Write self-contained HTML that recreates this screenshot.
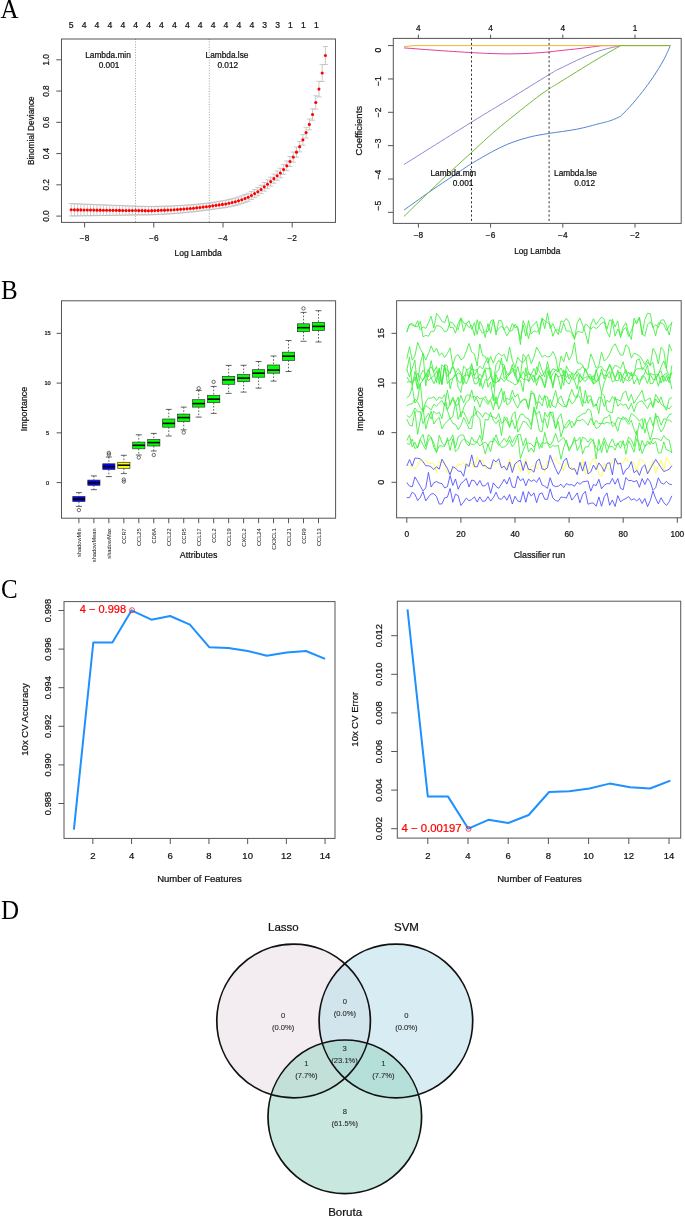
<!DOCTYPE html><html><head><meta charset="utf-8"><style>html,body{margin:0;padding:0;background:#fff;}svg{display:block;will-change:transform;}text{font-family:"Liberation Sans",sans-serif;}</style></head><body>
<svg width="685" height="1217" viewBox="0 0 685 1217">
<rect x="0" y="0" width="685" height="1217" fill="#fff"/>
<text transform="translate(0.6,17.5) scale(1,1.08)" font-size="25" style="font-family:'Liberation Serif',serif" fill="#000">A</text>
<text transform="translate(1.0,299.2) scale(1,1.08)" font-size="25" style="font-family:'Liberation Serif',serif" fill="#000">B</text>
<text transform="translate(0.9,597.9) scale(1,1.08)" font-size="25" style="font-family:'Liberation Serif',serif" fill="#000">C</text>
<text transform="translate(1.0,918.9) scale(1,1.08)" font-size="25" style="font-family:'Liberation Serif',serif" fill="#000">D</text>
<g stroke="#b8b8b8" stroke-width="0.75">
<line x1="71.21" y1="203.61" x2="71.21" y2="215.99"/>
<line x1="68.61" y1="203.61" x2="73.81" y2="203.61"/>
<line x1="68.61" y1="215.99" x2="73.81" y2="215.99"/>
<line x1="74.43" y1="203.74" x2="74.43" y2="215.95"/>
<line x1="71.83" y1="203.74" x2="77.03" y2="203.74"/>
<line x1="71.83" y1="215.95" x2="77.03" y2="215.95"/>
<line x1="77.65" y1="203.87" x2="77.65" y2="215.90"/>
<line x1="75.05" y1="203.87" x2="80.25" y2="203.87"/>
<line x1="75.05" y1="215.90" x2="80.25" y2="215.90"/>
<line x1="80.86" y1="204.00" x2="80.86" y2="215.85"/>
<line x1="78.26" y1="204.00" x2="83.46" y2="204.00"/>
<line x1="78.26" y1="215.85" x2="83.46" y2="215.85"/>
<line x1="84.08" y1="204.13" x2="84.08" y2="215.81"/>
<line x1="81.48" y1="204.13" x2="86.68" y2="204.13"/>
<line x1="81.48" y1="215.81" x2="86.68" y2="215.81"/>
<line x1="87.30" y1="204.26" x2="87.30" y2="215.76"/>
<line x1="84.70" y1="204.26" x2="89.90" y2="204.26"/>
<line x1="84.70" y1="215.76" x2="89.90" y2="215.76"/>
<line x1="90.52" y1="204.39" x2="90.52" y2="215.71"/>
<line x1="87.92" y1="204.39" x2="93.12" y2="204.39"/>
<line x1="87.92" y1="215.71" x2="93.12" y2="215.71"/>
<line x1="93.73" y1="204.52" x2="93.73" y2="215.66"/>
<line x1="91.13" y1="204.52" x2="96.33" y2="204.52"/>
<line x1="91.13" y1="215.66" x2="96.33" y2="215.66"/>
<line x1="96.95" y1="204.65" x2="96.95" y2="215.62"/>
<line x1="94.35" y1="204.65" x2="99.55" y2="204.65"/>
<line x1="94.35" y1="215.62" x2="99.55" y2="215.62"/>
<line x1="100.17" y1="204.78" x2="100.17" y2="215.57"/>
<line x1="97.57" y1="204.78" x2="102.77" y2="204.78"/>
<line x1="97.57" y1="215.57" x2="102.77" y2="215.57"/>
<line x1="103.39" y1="204.91" x2="103.39" y2="215.52"/>
<line x1="100.79" y1="204.91" x2="105.99" y2="204.91"/>
<line x1="100.79" y1="215.52" x2="105.99" y2="215.52"/>
<line x1="106.61" y1="205.04" x2="106.61" y2="215.48"/>
<line x1="104.01" y1="205.04" x2="109.21" y2="205.04"/>
<line x1="104.01" y1="215.48" x2="109.21" y2="215.48"/>
<line x1="109.82" y1="205.17" x2="109.82" y2="215.43"/>
<line x1="107.22" y1="205.17" x2="112.42" y2="205.17"/>
<line x1="107.22" y1="215.43" x2="112.42" y2="215.43"/>
<line x1="113.04" y1="205.29" x2="113.04" y2="215.37"/>
<line x1="110.44" y1="205.29" x2="115.64" y2="205.29"/>
<line x1="110.44" y1="215.37" x2="115.64" y2="215.37"/>
<line x1="116.26" y1="205.41" x2="116.26" y2="215.32"/>
<line x1="113.66" y1="205.41" x2="118.86" y2="205.41"/>
<line x1="113.66" y1="215.32" x2="118.86" y2="215.32"/>
<line x1="119.48" y1="205.53" x2="119.48" y2="215.26"/>
<line x1="116.88" y1="205.53" x2="122.08" y2="205.53"/>
<line x1="116.88" y1="215.26" x2="122.08" y2="215.26"/>
<line x1="122.69" y1="205.65" x2="122.69" y2="215.20"/>
<line x1="120.09" y1="205.65" x2="125.29" y2="205.65"/>
<line x1="120.09" y1="215.20" x2="125.29" y2="215.20"/>
<line x1="125.91" y1="205.77" x2="125.91" y2="215.15"/>
<line x1="123.31" y1="205.77" x2="128.51" y2="205.77"/>
<line x1="123.31" y1="215.15" x2="128.51" y2="215.15"/>
<line x1="129.13" y1="205.89" x2="129.13" y2="215.09"/>
<line x1="126.53" y1="205.89" x2="131.73" y2="205.89"/>
<line x1="126.53" y1="215.09" x2="131.73" y2="215.09"/>
<line x1="132.35" y1="206.01" x2="132.35" y2="215.03"/>
<line x1="129.75" y1="206.01" x2="134.95" y2="206.01"/>
<line x1="129.75" y1="215.03" x2="134.95" y2="215.03"/>
<line x1="135.57" y1="206.13" x2="135.57" y2="214.98"/>
<line x1="132.97" y1="206.13" x2="138.17" y2="206.13"/>
<line x1="132.97" y1="214.98" x2="138.17" y2="214.98"/>
<line x1="138.78" y1="206.25" x2="138.78" y2="214.92"/>
<line x1="136.18" y1="206.25" x2="141.38" y2="206.25"/>
<line x1="136.18" y1="214.92" x2="141.38" y2="214.92"/>
<line x1="142.00" y1="206.35" x2="142.00" y2="214.89"/>
<line x1="139.40" y1="206.35" x2="144.60" y2="206.35"/>
<line x1="139.40" y1="214.89" x2="144.60" y2="214.89"/>
<line x1="145.22" y1="206.42" x2="145.22" y2="214.88"/>
<line x1="142.62" y1="206.42" x2="147.82" y2="206.42"/>
<line x1="142.62" y1="214.88" x2="147.82" y2="214.88"/>
<line x1="148.44" y1="206.49" x2="148.44" y2="214.87"/>
<line x1="145.84" y1="206.49" x2="151.04" y2="206.49"/>
<line x1="145.84" y1="214.87" x2="151.04" y2="214.87"/>
<line x1="151.65" y1="206.49" x2="151.65" y2="214.79"/>
<line x1="149.05" y1="206.49" x2="154.25" y2="206.49"/>
<line x1="149.05" y1="214.79" x2="154.25" y2="214.79"/>
<line x1="154.87" y1="206.42" x2="154.87" y2="214.63"/>
<line x1="152.27" y1="206.42" x2="157.47" y2="206.42"/>
<line x1="152.27" y1="214.63" x2="157.47" y2="214.63"/>
<line x1="158.09" y1="206.34" x2="158.09" y2="214.47"/>
<line x1="155.49" y1="206.34" x2="160.69" y2="206.34"/>
<line x1="155.49" y1="214.47" x2="160.69" y2="214.47"/>
<line x1="161.31" y1="206.26" x2="161.31" y2="214.31"/>
<line x1="158.71" y1="206.26" x2="163.91" y2="206.26"/>
<line x1="158.71" y1="214.31" x2="163.91" y2="214.31"/>
<line x1="164.53" y1="206.19" x2="164.53" y2="214.15"/>
<line x1="161.93" y1="206.19" x2="167.13" y2="206.19"/>
<line x1="161.93" y1="214.15" x2="167.13" y2="214.15"/>
<line x1="167.74" y1="206.11" x2="167.74" y2="213.99"/>
<line x1="165.14" y1="206.11" x2="170.34" y2="206.11"/>
<line x1="165.14" y1="213.99" x2="170.34" y2="213.99"/>
<line x1="170.96" y1="206.04" x2="170.96" y2="213.83"/>
<line x1="168.36" y1="206.04" x2="173.56" y2="206.04"/>
<line x1="168.36" y1="213.83" x2="173.56" y2="213.83"/>
<line x1="174.18" y1="205.87" x2="174.18" y2="213.58"/>
<line x1="171.58" y1="205.87" x2="176.78" y2="205.87"/>
<line x1="171.58" y1="213.58" x2="176.78" y2="213.58"/>
<line x1="177.40" y1="205.66" x2="177.40" y2="213.29"/>
<line x1="174.80" y1="205.66" x2="180.00" y2="205.66"/>
<line x1="174.80" y1="213.29" x2="180.00" y2="213.29"/>
<line x1="180.62" y1="205.45" x2="180.62" y2="212.99"/>
<line x1="178.02" y1="205.45" x2="183.22" y2="205.45"/>
<line x1="178.02" y1="212.99" x2="183.22" y2="212.99"/>
<line x1="183.83" y1="205.25" x2="183.83" y2="212.70"/>
<line x1="181.23" y1="205.25" x2="186.43" y2="205.25"/>
<line x1="181.23" y1="212.70" x2="186.43" y2="212.70"/>
<line x1="187.05" y1="205.04" x2="187.05" y2="212.41"/>
<line x1="184.45" y1="205.04" x2="189.65" y2="205.04"/>
<line x1="184.45" y1="212.41" x2="189.65" y2="212.41"/>
<line x1="190.27" y1="204.83" x2="190.27" y2="212.12"/>
<line x1="187.67" y1="204.83" x2="192.87" y2="204.83"/>
<line x1="187.67" y1="212.12" x2="192.87" y2="212.12"/>
<line x1="193.49" y1="204.62" x2="193.49" y2="211.83"/>
<line x1="190.89" y1="204.62" x2="196.09" y2="204.62"/>
<line x1="190.89" y1="211.83" x2="196.09" y2="211.83"/>
<line x1="196.70" y1="204.30" x2="196.70" y2="211.42"/>
<line x1="194.10" y1="204.30" x2="199.30" y2="204.30"/>
<line x1="194.10" y1="211.42" x2="199.30" y2="211.42"/>
<line x1="199.92" y1="203.96" x2="199.92" y2="211.00"/>
<line x1="197.32" y1="203.96" x2="202.52" y2="203.96"/>
<line x1="197.32" y1="211.00" x2="202.52" y2="211.00"/>
<line x1="203.14" y1="203.62" x2="203.14" y2="210.58"/>
<line x1="200.54" y1="203.62" x2="205.74" y2="203.62"/>
<line x1="200.54" y1="210.58" x2="205.74" y2="210.58"/>
<line x1="206.36" y1="203.29" x2="206.36" y2="210.16"/>
<line x1="203.76" y1="203.29" x2="208.96" y2="203.29"/>
<line x1="203.76" y1="210.16" x2="208.96" y2="210.16"/>
<line x1="209.58" y1="202.92" x2="209.58" y2="209.74"/>
<line x1="206.98" y1="202.92" x2="212.18" y2="202.92"/>
<line x1="206.98" y1="209.74" x2="212.18" y2="209.74"/>
<line x1="212.79" y1="202.39" x2="212.79" y2="209.31"/>
<line x1="210.19" y1="202.39" x2="215.39" y2="202.39"/>
<line x1="210.19" y1="209.31" x2="215.39" y2="209.31"/>
<line x1="216.01" y1="201.86" x2="216.01" y2="208.88"/>
<line x1="213.41" y1="201.86" x2="218.61" y2="201.86"/>
<line x1="213.41" y1="208.88" x2="218.61" y2="208.88"/>
<line x1="219.23" y1="201.33" x2="219.23" y2="208.46"/>
<line x1="216.63" y1="201.33" x2="221.83" y2="201.33"/>
<line x1="216.63" y1="208.46" x2="221.83" y2="208.46"/>
<line x1="222.45" y1="200.81" x2="222.45" y2="208.03"/>
<line x1="219.85" y1="200.81" x2="225.05" y2="200.81"/>
<line x1="219.85" y1="208.03" x2="225.05" y2="208.03"/>
<line x1="225.66" y1="200.28" x2="225.66" y2="207.60"/>
<line x1="223.06" y1="200.28" x2="228.26" y2="200.28"/>
<line x1="223.06" y1="207.60" x2="228.26" y2="207.60"/>
<line x1="228.88" y1="199.55" x2="228.88" y2="206.97"/>
<line x1="226.28" y1="199.55" x2="231.48" y2="199.55"/>
<line x1="226.28" y1="206.97" x2="231.48" y2="206.97"/>
<line x1="232.10" y1="198.74" x2="232.10" y2="206.26"/>
<line x1="229.50" y1="198.74" x2="234.70" y2="198.74"/>
<line x1="229.50" y1="206.26" x2="234.70" y2="206.26"/>
<line x1="235.32" y1="197.93" x2="235.32" y2="205.55"/>
<line x1="232.72" y1="197.93" x2="237.92" y2="197.93"/>
<line x1="232.72" y1="205.55" x2="237.92" y2="205.55"/>
<line x1="238.54" y1="196.99" x2="238.54" y2="204.72"/>
<line x1="235.94" y1="196.99" x2="241.14" y2="196.99"/>
<line x1="235.94" y1="204.72" x2="241.14" y2="204.72"/>
<line x1="241.75" y1="195.76" x2="241.75" y2="203.59"/>
<line x1="239.15" y1="195.76" x2="244.35" y2="195.76"/>
<line x1="239.15" y1="203.59" x2="244.35" y2="203.59"/>
<line x1="244.97" y1="194.53" x2="244.97" y2="202.46"/>
<line x1="242.37" y1="194.53" x2="247.57" y2="194.53"/>
<line x1="242.37" y1="202.46" x2="247.57" y2="202.46"/>
<line x1="248.19" y1="193.30" x2="248.19" y2="201.33"/>
<line x1="245.59" y1="193.30" x2="250.79" y2="193.30"/>
<line x1="245.59" y1="201.33" x2="250.79" y2="201.33"/>
<line x1="251.41" y1="191.42" x2="251.41" y2="199.55"/>
<line x1="248.81" y1="191.42" x2="254.01" y2="191.42"/>
<line x1="248.81" y1="199.55" x2="254.01" y2="199.55"/>
<line x1="254.62" y1="189.47" x2="254.62" y2="197.70"/>
<line x1="252.02" y1="189.47" x2="257.22" y2="189.47"/>
<line x1="252.02" y1="197.70" x2="257.22" y2="197.70"/>
<line x1="257.84" y1="187.51" x2="257.84" y2="195.85"/>
<line x1="255.24" y1="187.51" x2="260.44" y2="187.51"/>
<line x1="255.24" y1="195.85" x2="260.44" y2="195.85"/>
<line x1="261.06" y1="185.21" x2="261.06" y2="193.67"/>
<line x1="258.46" y1="185.21" x2="263.66" y2="185.21"/>
<line x1="258.46" y1="193.67" x2="263.66" y2="193.67"/>
<line x1="264.28" y1="182.53" x2="264.28" y2="191.16"/>
<line x1="261.68" y1="182.53" x2="266.88" y2="182.53"/>
<line x1="261.68" y1="191.16" x2="266.88" y2="191.16"/>
<line x1="267.50" y1="179.84" x2="267.50" y2="188.64"/>
<line x1="264.90" y1="179.84" x2="270.10" y2="179.84"/>
<line x1="264.90" y1="188.64" x2="270.10" y2="188.64"/>
<line x1="270.71" y1="177.12" x2="270.71" y2="186.10"/>
<line x1="268.11" y1="177.12" x2="273.31" y2="177.12"/>
<line x1="268.11" y1="186.10" x2="273.31" y2="186.10"/>
<line x1="273.93" y1="174.06" x2="273.93" y2="183.21"/>
<line x1="271.33" y1="174.06" x2="276.53" y2="174.06"/>
<line x1="271.33" y1="183.21" x2="276.53" y2="183.21"/>
<line x1="277.15" y1="171.02" x2="277.15" y2="180.34"/>
<line x1="274.55" y1="171.02" x2="279.75" y2="171.02"/>
<line x1="274.55" y1="180.34" x2="279.75" y2="180.34"/>
<line x1="280.37" y1="168.28" x2="280.37" y2="177.77"/>
<line x1="277.77" y1="168.28" x2="282.97" y2="168.28"/>
<line x1="277.77" y1="177.77" x2="282.97" y2="177.77"/>
<line x1="283.58" y1="164.68" x2="283.58" y2="174.33"/>
<line x1="280.98" y1="164.68" x2="286.18" y2="164.68"/>
<line x1="280.98" y1="174.33" x2="286.18" y2="174.33"/>
<line x1="286.80" y1="160.95" x2="286.80" y2="170.78"/>
<line x1="284.20" y1="160.95" x2="289.40" y2="160.95"/>
<line x1="284.20" y1="170.78" x2="289.40" y2="170.78"/>
<line x1="290.02" y1="156.53" x2="290.02" y2="166.54"/>
<line x1="287.42" y1="156.53" x2="292.62" y2="156.53"/>
<line x1="287.42" y1="166.54" x2="292.62" y2="166.54"/>
<line x1="293.24" y1="152.02" x2="293.24" y2="162.16"/>
<line x1="290.64" y1="152.02" x2="295.84" y2="152.02"/>
<line x1="290.64" y1="162.16" x2="295.84" y2="162.16"/>
<line x1="296.46" y1="146.99" x2="296.46" y2="157.28"/>
<line x1="293.86" y1="146.99" x2="299.06" y2="146.99"/>
<line x1="293.86" y1="157.28" x2="299.06" y2="157.28"/>
<line x1="299.67" y1="141.43" x2="299.67" y2="151.87"/>
<line x1="297.07" y1="141.43" x2="302.27" y2="141.43"/>
<line x1="297.07" y1="151.87" x2="302.27" y2="151.87"/>
<line x1="302.89" y1="134.58" x2="302.89" y2="145.16"/>
<line x1="300.29" y1="134.58" x2="305.49" y2="134.58"/>
<line x1="300.29" y1="145.16" x2="305.49" y2="145.16"/>
<line x1="306.11" y1="127.26" x2="306.11" y2="137.99"/>
<line x1="303.51" y1="127.26" x2="308.71" y2="127.26"/>
<line x1="303.51" y1="137.99" x2="308.71" y2="137.99"/>
<line x1="309.33" y1="118.98" x2="309.33" y2="129.85"/>
<line x1="306.73" y1="118.98" x2="311.93" y2="118.98"/>
<line x1="306.73" y1="129.85" x2="311.93" y2="129.85"/>
<line x1="312.54" y1="108.88" x2="312.54" y2="120.24"/>
<line x1="309.94" y1="108.88" x2="315.14" y2="108.88"/>
<line x1="309.94" y1="120.24" x2="315.14" y2="120.24"/>
<line x1="315.76" y1="95.76" x2="315.76" y2="109.27"/>
<line x1="313.16" y1="95.76" x2="318.36" y2="95.76"/>
<line x1="313.16" y1="109.27" x2="318.36" y2="109.27"/>
<line x1="318.98" y1="81.33" x2="318.98" y2="96.88"/>
<line x1="316.38" y1="81.33" x2="321.58" y2="81.33"/>
<line x1="316.38" y1="96.88" x2="321.58" y2="96.88"/>
<line x1="322.20" y1="64.66" x2="322.20" y2="81.46"/>
<line x1="319.60" y1="64.66" x2="324.80" y2="64.66"/>
<line x1="319.60" y1="81.46" x2="324.80" y2="81.46"/>
<line x1="325.42" y1="46.50" x2="325.42" y2="64.50"/>
<line x1="322.82" y1="46.50" x2="328.02" y2="46.50"/>
<line x1="322.82" y1="64.50" x2="328.02" y2="64.50"/>
</g>
<g fill="#ff0000">
<circle cx="71.21" cy="209.80" r="1.55"/>
<circle cx="74.43" cy="209.84" r="1.55"/>
<circle cx="77.65" cy="209.88" r="1.55"/>
<circle cx="80.86" cy="209.92" r="1.55"/>
<circle cx="84.08" cy="209.97" r="1.55"/>
<circle cx="87.30" cy="210.01" r="1.55"/>
<circle cx="90.52" cy="210.05" r="1.55"/>
<circle cx="93.73" cy="210.09" r="1.55"/>
<circle cx="96.95" cy="210.13" r="1.55"/>
<circle cx="100.17" cy="210.17" r="1.55"/>
<circle cx="103.39" cy="210.21" r="1.55"/>
<circle cx="106.61" cy="210.26" r="1.55"/>
<circle cx="109.82" cy="210.30" r="1.55"/>
<circle cx="113.04" cy="210.33" r="1.55"/>
<circle cx="116.26" cy="210.36" r="1.55"/>
<circle cx="119.48" cy="210.39" r="1.55"/>
<circle cx="122.69" cy="210.43" r="1.55"/>
<circle cx="125.91" cy="210.46" r="1.55"/>
<circle cx="129.13" cy="210.49" r="1.55"/>
<circle cx="132.35" cy="210.52" r="1.55"/>
<circle cx="135.57" cy="210.56" r="1.55"/>
<circle cx="138.78" cy="210.59" r="1.55"/>
<circle cx="142.00" cy="210.62" r="1.55"/>
<circle cx="145.22" cy="210.65" r="1.55"/>
<circle cx="148.44" cy="210.68" r="1.55"/>
<circle cx="151.65" cy="210.64" r="1.55"/>
<circle cx="154.87" cy="210.52" r="1.55"/>
<circle cx="158.09" cy="210.40" r="1.55"/>
<circle cx="161.31" cy="210.29" r="1.55"/>
<circle cx="164.53" cy="210.17" r="1.55"/>
<circle cx="167.74" cy="210.05" r="1.55"/>
<circle cx="170.96" cy="209.93" r="1.55"/>
<circle cx="174.18" cy="209.72" r="1.55"/>
<circle cx="177.40" cy="209.47" r="1.55"/>
<circle cx="180.62" cy="209.22" r="1.55"/>
<circle cx="183.83" cy="208.97" r="1.55"/>
<circle cx="187.05" cy="208.72" r="1.55"/>
<circle cx="190.27" cy="208.47" r="1.55"/>
<circle cx="193.49" cy="208.22" r="1.55"/>
<circle cx="196.70" cy="207.86" r="1.55"/>
<circle cx="199.92" cy="207.48" r="1.55"/>
<circle cx="203.14" cy="207.10" r="1.55"/>
<circle cx="206.36" cy="206.72" r="1.55"/>
<circle cx="209.58" cy="206.33" r="1.55"/>
<circle cx="212.79" cy="205.85" r="1.55"/>
<circle cx="216.01" cy="205.37" r="1.55"/>
<circle cx="219.23" cy="204.90" r="1.55"/>
<circle cx="222.45" cy="204.42" r="1.55"/>
<circle cx="225.66" cy="203.94" r="1.55"/>
<circle cx="228.88" cy="203.26" r="1.55"/>
<circle cx="232.10" cy="202.50" r="1.55"/>
<circle cx="235.32" cy="201.74" r="1.55"/>
<circle cx="238.54" cy="200.86" r="1.55"/>
<circle cx="241.75" cy="199.68" r="1.55"/>
<circle cx="244.97" cy="198.50" r="1.55"/>
<circle cx="248.19" cy="197.31" r="1.55"/>
<circle cx="251.41" cy="195.48" r="1.55"/>
<circle cx="254.62" cy="193.58" r="1.55"/>
<circle cx="257.84" cy="191.68" r="1.55"/>
<circle cx="261.06" cy="189.44" r="1.55"/>
<circle cx="264.28" cy="186.84" r="1.55"/>
<circle cx="267.50" cy="184.24" r="1.55"/>
<circle cx="270.71" cy="181.61" r="1.55"/>
<circle cx="273.93" cy="178.64" r="1.55"/>
<circle cx="277.15" cy="175.68" r="1.55"/>
<circle cx="280.37" cy="173.03" r="1.55"/>
<circle cx="283.58" cy="169.50" r="1.55"/>
<circle cx="286.80" cy="165.86" r="1.55"/>
<circle cx="290.02" cy="161.53" r="1.55"/>
<circle cx="293.24" cy="157.09" r="1.55"/>
<circle cx="296.46" cy="152.14" r="1.55"/>
<circle cx="299.67" cy="146.65" r="1.55"/>
<circle cx="302.89" cy="139.87" r="1.55"/>
<circle cx="306.11" cy="132.62" r="1.55"/>
<circle cx="309.33" cy="124.42" r="1.55"/>
<circle cx="312.54" cy="114.56" r="1.55"/>
<circle cx="315.76" cy="102.52" r="1.55"/>
<circle cx="318.98" cy="89.10" r="1.55"/>
<circle cx="322.20" cy="73.06" r="1.55"/>
<circle cx="325.42" cy="55.50" r="1.55"/>
</g>
<line x1="135.50" y1="39.00" x2="135.50" y2="222.40" stroke="#8a8a8a" stroke-width="0.8" stroke-dasharray="1,1.6"/>
<line x1="209.30" y1="39.00" x2="209.30" y2="222.40" stroke="#8a8a8a" stroke-width="0.8" stroke-dasharray="1,1.6"/>
<rect x="61.50" y="39.00" width="274.00" height="183.40" stroke="#555" stroke-width="1" fill="none" />
<line x1="56.30" y1="216.10" x2="61.50" y2="216.10" stroke="#555" stroke-width="1" />
<text transform="translate(49.29,216.10) rotate(-90)" font-size="8.3" text-anchor="middle" fill="#111" stroke="#111" stroke-width="0.22">0.0</text>
<line x1="56.30" y1="184.84" x2="61.50" y2="184.84" stroke="#555" stroke-width="1" />
<text transform="translate(49.29,184.84) rotate(-90)" font-size="8.3" text-anchor="middle" fill="#111" stroke="#111" stroke-width="0.22">0.2</text>
<line x1="56.30" y1="153.58" x2="61.50" y2="153.58" stroke="#555" stroke-width="1" />
<text transform="translate(49.29,153.58) rotate(-90)" font-size="8.3" text-anchor="middle" fill="#111" stroke="#111" stroke-width="0.22">0.4</text>
<line x1="56.30" y1="122.32" x2="61.50" y2="122.32" stroke="#555" stroke-width="1" />
<text transform="translate(49.29,122.32) rotate(-90)" font-size="8.3" text-anchor="middle" fill="#111" stroke="#111" stroke-width="0.22">0.6</text>
<line x1="56.30" y1="91.06" x2="61.50" y2="91.06" stroke="#555" stroke-width="1" />
<text transform="translate(49.29,91.06) rotate(-90)" font-size="8.3" text-anchor="middle" fill="#111" stroke="#111" stroke-width="0.22">0.8</text>
<line x1="56.30" y1="59.80" x2="61.50" y2="59.80" stroke="#555" stroke-width="1" />
<text transform="translate(49.29,59.80) rotate(-90)" font-size="8.3" text-anchor="middle" fill="#111" stroke="#111" stroke-width="0.22">1.0</text>
<line x1="84.60" y1="222.40" x2="84.60" y2="227.50" stroke="#555" stroke-width="1" />
<text x="84.60" y="240.99" font-size="8.3" text-anchor="middle" fill="#111" stroke="#111" stroke-width="0.22" >−8</text>
<line x1="153.80" y1="222.40" x2="153.80" y2="227.50" stroke="#555" stroke-width="1" />
<text x="153.80" y="240.99" font-size="8.3" text-anchor="middle" fill="#111" stroke="#111" stroke-width="0.22" >−6</text>
<line x1="223.00" y1="222.40" x2="223.00" y2="227.50" stroke="#555" stroke-width="1" />
<text x="223.00" y="240.99" font-size="8.3" text-anchor="middle" fill="#111" stroke="#111" stroke-width="0.22" >−4</text>
<line x1="292.20" y1="222.40" x2="292.20" y2="227.50" stroke="#555" stroke-width="1" />
<text x="292.20" y="240.99" font-size="8.3" text-anchor="middle" fill="#111" stroke="#111" stroke-width="0.22" >−2</text>
<text x="71.20" y="27.60" font-size="8.6" text-anchor="middle" fill="#111" stroke="#111" stroke-width="0.22" >5</text>
<text x="84.10" y="27.60" font-size="8.6" text-anchor="middle" fill="#111" stroke="#111" stroke-width="0.22" >4</text>
<text x="97.00" y="27.60" font-size="8.6" text-anchor="middle" fill="#111" stroke="#111" stroke-width="0.22" >4</text>
<text x="109.90" y="27.60" font-size="8.6" text-anchor="middle" fill="#111" stroke="#111" stroke-width="0.22" >4</text>
<text x="122.80" y="27.60" font-size="8.6" text-anchor="middle" fill="#111" stroke="#111" stroke-width="0.22" >4</text>
<text x="135.70" y="27.60" font-size="8.6" text-anchor="middle" fill="#111" stroke="#111" stroke-width="0.22" >4</text>
<text x="148.60" y="27.60" font-size="8.6" text-anchor="middle" fill="#111" stroke="#111" stroke-width="0.22" >4</text>
<text x="161.50" y="27.60" font-size="8.6" text-anchor="middle" fill="#111" stroke="#111" stroke-width="0.22" >4</text>
<text x="174.40" y="27.60" font-size="8.6" text-anchor="middle" fill="#111" stroke="#111" stroke-width="0.22" >4</text>
<text x="187.30" y="27.60" font-size="8.6" text-anchor="middle" fill="#111" stroke="#111" stroke-width="0.22" >4</text>
<text x="200.20" y="27.60" font-size="8.6" text-anchor="middle" fill="#111" stroke="#111" stroke-width="0.22" >4</text>
<text x="213.10" y="27.60" font-size="8.6" text-anchor="middle" fill="#111" stroke="#111" stroke-width="0.22" >4</text>
<text x="226.00" y="27.60" font-size="8.6" text-anchor="middle" fill="#111" stroke="#111" stroke-width="0.22" >4</text>
<text x="238.90" y="27.60" font-size="8.6" text-anchor="middle" fill="#111" stroke="#111" stroke-width="0.22" >4</text>
<text x="251.80" y="27.60" font-size="8.6" text-anchor="middle" fill="#111" stroke="#111" stroke-width="0.22" >4</text>
<text x="264.70" y="27.60" font-size="8.6" text-anchor="middle" fill="#111" stroke="#111" stroke-width="0.22" >3</text>
<text x="277.60" y="27.60" font-size="8.6" text-anchor="middle" fill="#111" stroke="#111" stroke-width="0.22" >3</text>
<text x="290.50" y="27.60" font-size="8.6" text-anchor="middle" fill="#111" stroke="#111" stroke-width="0.22" >1</text>
<text x="303.40" y="27.60" font-size="8.6" text-anchor="middle" fill="#111" stroke="#111" stroke-width="0.22" >1</text>
<text x="316.30" y="27.60" font-size="8.6" text-anchor="middle" fill="#111" stroke="#111" stroke-width="0.22" >1</text>
<text transform="translate(34.19,130.70) rotate(-90)" font-size="8.3" text-anchor="middle" fill="#111" stroke="#111" stroke-width="0.22">Binomial Deviance</text>
<text x="198.20" y="256.16" font-size="8.5" text-anchor="middle" fill="#111" stroke="#111" stroke-width="0.22" >Log Lambda</text>
<text x="108.00" y="58.09" font-size="8.3" text-anchor="middle" fill="#111" stroke="#111" stroke-width="0.22" >Lambda.min</text>
<text x="109.10" y="68.29" font-size="8.3" text-anchor="middle" fill="#111" stroke="#111" stroke-width="0.22" >0.001</text>
<text x="227.00" y="58.09" font-size="8.3" text-anchor="middle" fill="#111" stroke="#111" stroke-width="0.22" >Lambda.lse</text>
<text x="227.80" y="68.29" font-size="8.3" text-anchor="middle" fill="#111" stroke="#111" stroke-width="0.22" >0.012</text>
<path d="M404.00,210.10 C408.33,207.00 420.67,197.97 430.00,191.50 C439.33,185.03 453.08,175.95 460.00,171.30 C466.92,166.65 465.67,167.12 471.50,163.60 C477.33,160.08 488.25,153.72 495.00,150.20 C501.75,146.68 506.15,144.72 512.00,142.50 C517.85,140.28 523.92,138.42 530.10,136.90 C536.28,135.38 541.32,134.68 549.10,133.40 C556.88,132.12 568.28,130.87 576.80,129.20 C585.32,127.53 594.50,124.85 600.20,123.40 C605.90,121.95 607.67,121.65 611.00,120.50 C614.33,119.35 618.67,117.17 620.20,116.50" fill="none" stroke="#5585d4" stroke-width="1.0" stroke-linejoin="round" />
<path d="M620.20,116.50 C621.73,114.97 625.67,111.47 629.40,107.30 C633.13,103.13 638.65,96.53 642.60,91.50 C646.55,86.47 649.60,82.35 653.10,77.10 C656.60,71.85 660.72,65.27 663.60,60.00 C666.48,54.73 669.27,47.92 670.40,45.50" fill="none" stroke="#5585d4" stroke-width="1.0" stroke-linejoin="round" />
<path d="M404.00,164.50 C415.25,157.45 454.18,132.95 471.50,122.20 C488.82,111.45 494.97,107.93 507.90,100.00 C520.83,92.07 540.42,79.85 549.10,74.60 C557.78,69.35 552.35,72.20 560.00,68.50 C567.65,64.80 584.88,56.22 595.00,52.40 C605.12,48.58 616.42,46.73 620.70,45.60" fill="none" stroke="#8f8ad4" stroke-width="1.0" stroke-linejoin="round" />
<path d="M404.00,47.90 C410.00,48.35 428.75,49.82 440.00,50.60 C451.25,51.38 463.17,52.12 471.50,52.60 C479.83,53.08 483.58,53.28 490.00,53.50 C496.42,53.72 503.33,53.93 510.00,53.90 C516.67,53.87 523.48,53.63 530.00,53.30 C536.52,52.97 544.10,52.35 549.10,51.90 C554.10,51.45 554.85,51.17 560.00,50.60 C565.15,50.03 573.00,49.33 580.00,48.50 C587.00,47.67 598.33,46.08 602.00,45.60" fill="none" stroke="#e2409a" stroke-width="1.0" stroke-linejoin="round" />
<polyline points="602.00,45.60 620.00,45.60" fill="none" stroke="#e2409a" stroke-width="1.0" stroke-linejoin="round" />
<polyline points="404.00,46.70 414.00,45.60 670.40,45.60" fill="none" stroke="#f0b434" stroke-width="1.0" stroke-linejoin="round" />
<path d="M404.00,216.40 C410.00,210.58 428.75,192.15 440.00,181.50 C451.25,170.85 462.12,161.08 471.50,152.50 C480.88,143.92 485.95,138.75 496.30,130.00 C506.65,121.25 524.80,106.85 533.60,100.00 C542.40,93.15 544.70,91.88 549.10,88.90 C553.50,85.92 552.35,86.83 560.00,82.10 C567.65,77.37 584.88,66.58 595.00,60.50 C605.12,54.42 616.42,48.08 620.70,45.60" fill="none" stroke="#74b83a" stroke-width="1.0" stroke-linejoin="round" />
<polyline points="620.70,45.60 670.40,45.60" fill="none" stroke="#74b83a" stroke-width="1.0" stroke-linejoin="round" />
<line x1="471.50" y1="38.40" x2="471.50" y2="223.40" stroke="#222" stroke-width="0.9" stroke-dasharray="2.2,2.2"/>
<line x1="549.10" y1="38.40" x2="549.10" y2="223.40" stroke="#222" stroke-width="0.9" stroke-dasharray="2.2,2.2"/>
<rect x="393.30" y="38.40" width="287.90" height="185.00" stroke="#555" stroke-width="1" fill="none" />
<line x1="388.00" y1="45.60" x2="393.30" y2="45.60" stroke="#555" stroke-width="1" />
<text transform="translate(381.36,50.10) rotate(-90)" font-size="8.5" text-anchor="middle" fill="#111" stroke="#111" stroke-width="0.22">0</text>
<line x1="388.00" y1="78.95" x2="393.30" y2="78.95" stroke="#555" stroke-width="1" />
<text transform="translate(381.36,81.20) rotate(-90)" font-size="8.5" text-anchor="middle" fill="#111" stroke="#111" stroke-width="0.22">−1</text>
<line x1="388.00" y1="112.30" x2="393.30" y2="112.30" stroke="#555" stroke-width="1" />
<text transform="translate(381.36,112.30) rotate(-90)" font-size="8.5" text-anchor="middle" fill="#111" stroke="#111" stroke-width="0.22">−2</text>
<line x1="388.00" y1="145.65" x2="393.30" y2="145.65" stroke="#555" stroke-width="1" />
<text transform="translate(381.36,143.40) rotate(-90)" font-size="8.5" text-anchor="middle" fill="#111" stroke="#111" stroke-width="0.22">−3</text>
<line x1="388.00" y1="179.00" x2="393.30" y2="179.00" stroke="#555" stroke-width="1" />
<text transform="translate(381.36,174.50) rotate(-90)" font-size="8.5" text-anchor="middle" fill="#111" stroke="#111" stroke-width="0.22">−4</text>
<line x1="388.00" y1="212.35" x2="393.30" y2="212.35" stroke="#555" stroke-width="1" />
<text transform="translate(381.36,205.60) rotate(-90)" font-size="8.5" text-anchor="middle" fill="#111" stroke="#111" stroke-width="0.22">−5</text>
<line x1="418.40" y1="223.40" x2="418.40" y2="227.60" stroke="#555" stroke-width="1" />
<line x1="418.40" y1="38.40" x2="418.40" y2="34.60" stroke="#555" stroke-width="1" />
<text x="418.40" y="237.99" font-size="8.3" text-anchor="middle" fill="#111" stroke="#111" stroke-width="0.22" >−8</text>
<text x="418.40" y="30.79" font-size="8.3" text-anchor="middle" fill="#111" stroke="#111" stroke-width="0.22" >4</text>
<line x1="490.60" y1="223.40" x2="490.60" y2="227.60" stroke="#555" stroke-width="1" />
<line x1="490.60" y1="38.40" x2="490.60" y2="34.60" stroke="#555" stroke-width="1" />
<text x="490.60" y="237.99" font-size="8.3" text-anchor="middle" fill="#111" stroke="#111" stroke-width="0.22" >−6</text>
<text x="490.60" y="30.79" font-size="8.3" text-anchor="middle" fill="#111" stroke="#111" stroke-width="0.22" >4</text>
<line x1="562.80" y1="223.40" x2="562.80" y2="227.60" stroke="#555" stroke-width="1" />
<line x1="562.80" y1="38.40" x2="562.80" y2="34.60" stroke="#555" stroke-width="1" />
<text x="562.80" y="237.99" font-size="8.3" text-anchor="middle" fill="#111" stroke="#111" stroke-width="0.22" >−4</text>
<text x="562.80" y="30.79" font-size="8.3" text-anchor="middle" fill="#111" stroke="#111" stroke-width="0.22" >4</text>
<line x1="635.00" y1="223.40" x2="635.00" y2="227.60" stroke="#555" stroke-width="1" />
<line x1="635.00" y1="38.40" x2="635.00" y2="34.60" stroke="#555" stroke-width="1" />
<text x="635.00" y="237.99" font-size="8.3" text-anchor="middle" fill="#111" stroke="#111" stroke-width="0.22" >−2</text>
<text x="635.00" y="30.79" font-size="8.3" text-anchor="middle" fill="#111" stroke="#111" stroke-width="0.22" >1</text>
<text transform="translate(361.82,130.70) rotate(-90)" font-size="9.5" text-anchor="middle" fill="#111" stroke="#111" stroke-width="0.22">Coefficients</text>
<text x="537.20" y="253.69" font-size="8.3" text-anchor="middle" fill="#111" stroke="#111" stroke-width="0.22" >Log Lambda</text>
<text x="453.30" y="176.39" font-size="8.3" text-anchor="middle" fill="#111" stroke="#111" stroke-width="0.22" >Lambda.min</text>
<text x="463.10" y="185.89" font-size="8.3" text-anchor="middle" fill="#111" stroke="#111" stroke-width="0.22" >0.001</text>
<text x="575.50" y="175.89" font-size="8.3" text-anchor="middle" fill="#111" stroke="#111" stroke-width="0.22" >Lambda.lse</text>
<text x="584.70" y="186.39" font-size="8.3" text-anchor="middle" fill="#111" stroke="#111" stroke-width="0.22" >0.012</text>
<line x1="78.90" y1="492.60" x2="78.90" y2="496.40" stroke="#222" stroke-width="0.7" stroke-dasharray="1.6,1.6"/>
<line x1="78.90" y1="501.60" x2="78.90" y2="506.40" stroke="#222" stroke-width="0.7" stroke-dasharray="1.6,1.6"/>
<line x1="75.90" y1="492.60" x2="81.90" y2="492.60" stroke="#222" stroke-width="0.7" />
<line x1="75.90" y1="506.40" x2="81.90" y2="506.40" stroke="#222" stroke-width="0.7" />
<rect x="72.80" y="496.40" width="12.20" height="5.20" stroke="#333" stroke-width="0.7" fill="#0000ff" />
<line x1="72.80" y1="499.10" x2="85.00" y2="499.10" stroke="#000" stroke-width="1.6" />
<circle cx="78.90" cy="510.10" r="1.7" fill="none" stroke="#333" stroke-width="0.7"/>
<line x1="93.88" y1="475.90" x2="93.88" y2="480.10" stroke="#222" stroke-width="0.7" stroke-dasharray="1.6,1.6"/>
<line x1="93.88" y1="485.30" x2="93.88" y2="489.70" stroke="#222" stroke-width="0.7" stroke-dasharray="1.6,1.6"/>
<line x1="90.88" y1="475.90" x2="96.88" y2="475.90" stroke="#222" stroke-width="0.7" />
<line x1="90.88" y1="489.70" x2="96.88" y2="489.70" stroke="#222" stroke-width="0.7" />
<rect x="87.78" y="480.10" width="12.20" height="5.20" stroke="#333" stroke-width="0.7" fill="#0000ff" />
<line x1="87.78" y1="482.70" x2="99.97" y2="482.70" stroke="#000" stroke-width="1.6" />
<line x1="108.85" y1="457.00" x2="108.85" y2="463.80" stroke="#222" stroke-width="0.7" stroke-dasharray="1.6,1.6"/>
<line x1="108.85" y1="469.50" x2="108.85" y2="476.60" stroke="#222" stroke-width="0.7" stroke-dasharray="1.6,1.6"/>
<line x1="105.85" y1="457.00" x2="111.85" y2="457.00" stroke="#222" stroke-width="0.7" />
<line x1="105.85" y1="476.60" x2="111.85" y2="476.60" stroke="#222" stroke-width="0.7" />
<rect x="102.75" y="463.80" width="12.20" height="5.70" stroke="#333" stroke-width="0.7" fill="#0000ff" />
<line x1="102.75" y1="466.60" x2="114.95" y2="466.60" stroke="#000" stroke-width="1.6" />
<circle cx="108.85" cy="452.90" r="1.7" fill="none" stroke="#333" stroke-width="0.7"/>
<circle cx="108.85" cy="454.50" r="1.7" fill="none" stroke="#333" stroke-width="0.7"/>
<line x1="123.83" y1="455.30" x2="123.83" y2="462.30" stroke="#222" stroke-width="0.7" stroke-dasharray="1.6,1.6"/>
<line x1="123.83" y1="468.30" x2="123.83" y2="473.60" stroke="#222" stroke-width="0.7" stroke-dasharray="1.6,1.6"/>
<line x1="120.83" y1="455.30" x2="126.83" y2="455.30" stroke="#222" stroke-width="0.7" />
<line x1="120.83" y1="473.60" x2="126.83" y2="473.60" stroke="#222" stroke-width="0.7" />
<rect x="117.73" y="462.30" width="12.20" height="6.00" stroke="#333" stroke-width="0.7" fill="#ffff00" />
<line x1="117.73" y1="465.20" x2="129.93" y2="465.20" stroke="#000" stroke-width="1.6" />
<circle cx="123.83" cy="479.60" r="1.7" fill="none" stroke="#333" stroke-width="0.7"/>
<circle cx="123.83" cy="481.60" r="1.7" fill="none" stroke="#333" stroke-width="0.7"/>
<line x1="138.80" y1="434.80" x2="138.80" y2="442.10" stroke="#222" stroke-width="0.7" stroke-dasharray="1.6,1.6"/>
<line x1="138.80" y1="448.80" x2="138.80" y2="455.00" stroke="#222" stroke-width="0.7" stroke-dasharray="1.6,1.6"/>
<line x1="135.80" y1="434.80" x2="141.80" y2="434.80" stroke="#222" stroke-width="0.7" />
<line x1="135.80" y1="455.00" x2="141.80" y2="455.00" stroke="#222" stroke-width="0.7" />
<rect x="132.70" y="442.10" width="12.20" height="6.70" stroke="#333" stroke-width="0.7" fill="#00ff00" />
<line x1="132.70" y1="445.30" x2="144.90" y2="445.30" stroke="#000" stroke-width="1.6" />
<circle cx="138.80" cy="457.50" r="1.7" fill="none" stroke="#333" stroke-width="0.7"/>
<line x1="153.78" y1="433.40" x2="153.78" y2="439.50" stroke="#222" stroke-width="0.7" stroke-dasharray="1.6,1.6"/>
<line x1="153.78" y1="446.00" x2="153.78" y2="451.00" stroke="#222" stroke-width="0.7" stroke-dasharray="1.6,1.6"/>
<line x1="150.78" y1="433.40" x2="156.78" y2="433.40" stroke="#222" stroke-width="0.7" />
<line x1="150.78" y1="451.00" x2="156.78" y2="451.00" stroke="#222" stroke-width="0.7" />
<rect x="147.68" y="439.50" width="12.20" height="6.50" stroke="#333" stroke-width="0.7" fill="#00ff00" />
<line x1="147.68" y1="442.60" x2="159.88" y2="442.60" stroke="#000" stroke-width="1.6" />
<circle cx="153.78" cy="455.00" r="1.7" fill="none" stroke="#333" stroke-width="0.7"/>
<line x1="168.75" y1="409.40" x2="168.75" y2="419.00" stroke="#222" stroke-width="0.7" stroke-dasharray="1.6,1.6"/>
<line x1="168.75" y1="427.20" x2="168.75" y2="436.00" stroke="#222" stroke-width="0.7" stroke-dasharray="1.6,1.6"/>
<line x1="165.75" y1="409.40" x2="171.75" y2="409.40" stroke="#222" stroke-width="0.7" />
<line x1="165.75" y1="436.00" x2="171.75" y2="436.00" stroke="#222" stroke-width="0.7" />
<rect x="162.65" y="419.00" width="12.20" height="8.20" stroke="#333" stroke-width="0.7" fill="#00ff00" />
<line x1="162.65" y1="423.40" x2="174.85" y2="423.40" stroke="#000" stroke-width="1.6" />
<line x1="183.73" y1="407.10" x2="183.73" y2="414.10" stroke="#222" stroke-width="0.7" stroke-dasharray="1.6,1.6"/>
<line x1="183.73" y1="421.50" x2="183.73" y2="429.90" stroke="#222" stroke-width="0.7" stroke-dasharray="1.6,1.6"/>
<line x1="180.73" y1="407.10" x2="186.73" y2="407.10" stroke="#222" stroke-width="0.7" />
<line x1="180.73" y1="429.90" x2="186.73" y2="429.90" stroke="#222" stroke-width="0.7" />
<rect x="177.63" y="414.10" width="12.20" height="7.40" stroke="#333" stroke-width="0.7" fill="#00ff00" />
<line x1="177.63" y1="417.60" x2="189.83" y2="417.60" stroke="#000" stroke-width="1.6" />
<circle cx="183.73" cy="432.50" r="1.7" fill="none" stroke="#333" stroke-width="0.7"/>
<line x1="198.70" y1="390.40" x2="198.70" y2="399.70" stroke="#222" stroke-width="0.7" stroke-dasharray="1.6,1.6"/>
<line x1="198.70" y1="407.10" x2="198.70" y2="417.10" stroke="#222" stroke-width="0.7" stroke-dasharray="1.6,1.6"/>
<line x1="195.70" y1="390.40" x2="201.70" y2="390.40" stroke="#222" stroke-width="0.7" />
<line x1="195.70" y1="417.10" x2="201.70" y2="417.10" stroke="#222" stroke-width="0.7" />
<rect x="192.60" y="399.70" width="12.20" height="7.40" stroke="#333" stroke-width="0.7" fill="#00ff00" />
<line x1="192.60" y1="403.60" x2="204.80" y2="403.60" stroke="#000" stroke-width="1.6" />
<circle cx="198.70" cy="388.30" r="1.7" fill="none" stroke="#333" stroke-width="0.7"/>
<line x1="213.68" y1="386.40" x2="213.68" y2="395.30" stroke="#222" stroke-width="0.7" stroke-dasharray="1.6,1.6"/>
<line x1="213.68" y1="402.70" x2="213.68" y2="413.40" stroke="#222" stroke-width="0.7" stroke-dasharray="1.6,1.6"/>
<line x1="210.68" y1="386.40" x2="216.68" y2="386.40" stroke="#222" stroke-width="0.7" />
<line x1="210.68" y1="413.40" x2="216.68" y2="413.40" stroke="#222" stroke-width="0.7" />
<rect x="207.58" y="395.30" width="12.20" height="7.40" stroke="#333" stroke-width="0.7" fill="#00ff00" />
<line x1="207.58" y1="399.20" x2="219.78" y2="399.20" stroke="#000" stroke-width="1.6" />
<circle cx="213.68" cy="381.90" r="1.7" fill="none" stroke="#333" stroke-width="0.7"/>
<line x1="228.65" y1="365.40" x2="228.65" y2="376.40" stroke="#222" stroke-width="0.7" stroke-dasharray="1.6,1.6"/>
<line x1="228.65" y1="384.30" x2="228.65" y2="393.40" stroke="#222" stroke-width="0.7" stroke-dasharray="1.6,1.6"/>
<line x1="225.65" y1="365.40" x2="231.65" y2="365.40" stroke="#222" stroke-width="0.7" />
<line x1="225.65" y1="393.40" x2="231.65" y2="393.40" stroke="#222" stroke-width="0.7" />
<rect x="222.55" y="376.40" width="12.20" height="7.90" stroke="#333" stroke-width="0.7" fill="#00ff00" />
<line x1="222.55" y1="379.80" x2="234.75" y2="379.80" stroke="#000" stroke-width="1.6" />
<line x1="243.62" y1="365.30" x2="243.62" y2="374.60" stroke="#222" stroke-width="0.7" stroke-dasharray="1.6,1.6"/>
<line x1="243.62" y1="381.60" x2="243.62" y2="392.10" stroke="#222" stroke-width="0.7" stroke-dasharray="1.6,1.6"/>
<line x1="240.62" y1="365.30" x2="246.62" y2="365.30" stroke="#222" stroke-width="0.7" />
<line x1="240.62" y1="392.10" x2="246.62" y2="392.10" stroke="#222" stroke-width="0.7" />
<rect x="237.53" y="374.60" width="12.20" height="7.00" stroke="#333" stroke-width="0.7" fill="#00ff00" />
<line x1="237.53" y1="378.10" x2="249.72" y2="378.10" stroke="#000" stroke-width="1.6" />
<line x1="258.60" y1="361.50" x2="258.60" y2="369.70" stroke="#222" stroke-width="0.7" stroke-dasharray="1.6,1.6"/>
<line x1="258.60" y1="377.20" x2="258.60" y2="388.10" stroke="#222" stroke-width="0.7" stroke-dasharray="1.6,1.6"/>
<line x1="255.60" y1="361.50" x2="261.60" y2="361.50" stroke="#222" stroke-width="0.7" />
<line x1="255.60" y1="388.10" x2="261.60" y2="388.10" stroke="#222" stroke-width="0.7" />
<rect x="252.50" y="369.70" width="12.20" height="7.50" stroke="#333" stroke-width="0.7" fill="#00ff00" />
<line x1="252.50" y1="373.20" x2="264.70" y2="373.20" stroke="#000" stroke-width="1.6" />
<line x1="273.57" y1="356.00" x2="273.57" y2="365.00" stroke="#222" stroke-width="0.7" stroke-dasharray="1.6,1.6"/>
<line x1="273.57" y1="373.20" x2="273.57" y2="381.10" stroke="#222" stroke-width="0.7" stroke-dasharray="1.6,1.6"/>
<line x1="270.57" y1="356.00" x2="276.57" y2="356.00" stroke="#222" stroke-width="0.7" />
<line x1="270.57" y1="381.10" x2="276.57" y2="381.10" stroke="#222" stroke-width="0.7" />
<rect x="267.47" y="365.00" width="12.20" height="8.20" stroke="#333" stroke-width="0.7" fill="#00ff00" />
<line x1="267.47" y1="370.10" x2="279.68" y2="370.10" stroke="#000" stroke-width="1.6" />
<line x1="288.55" y1="340.50" x2="288.55" y2="352.20" stroke="#222" stroke-width="0.7" stroke-dasharray="1.6,1.6"/>
<line x1="288.55" y1="360.40" x2="288.55" y2="371.50" stroke="#222" stroke-width="0.7" stroke-dasharray="1.6,1.6"/>
<line x1="285.55" y1="340.50" x2="291.55" y2="340.50" stroke="#222" stroke-width="0.7" />
<line x1="285.55" y1="371.50" x2="291.55" y2="371.50" stroke="#222" stroke-width="0.7" />
<rect x="282.45" y="352.20" width="12.20" height="8.20" stroke="#333" stroke-width="0.7" fill="#00ff00" />
<line x1="282.45" y1="356.20" x2="294.65" y2="356.20" stroke="#000" stroke-width="1.6" />
<line x1="303.52" y1="312.40" x2="303.52" y2="323.80" stroke="#222" stroke-width="0.7" stroke-dasharray="1.6,1.6"/>
<line x1="303.52" y1="331.70" x2="303.52" y2="341.30" stroke="#222" stroke-width="0.7" stroke-dasharray="1.6,1.6"/>
<line x1="300.52" y1="312.40" x2="306.52" y2="312.40" stroke="#222" stroke-width="0.7" />
<line x1="300.52" y1="341.30" x2="306.52" y2="341.30" stroke="#222" stroke-width="0.7" />
<rect x="297.42" y="323.80" width="12.20" height="7.90" stroke="#333" stroke-width="0.7" fill="#00ff00" />
<line x1="297.42" y1="327.70" x2="309.62" y2="327.70" stroke="#000" stroke-width="1.6" />
<circle cx="303.52" cy="308.40" r="1.7" fill="none" stroke="#333" stroke-width="0.7"/>
<line x1="318.50" y1="310.70" x2="318.50" y2="322.40" stroke="#222" stroke-width="0.7" stroke-dasharray="1.6,1.6"/>
<line x1="318.50" y1="330.60" x2="318.50" y2="342.00" stroke="#222" stroke-width="0.7" stroke-dasharray="1.6,1.6"/>
<line x1="315.50" y1="310.70" x2="321.50" y2="310.70" stroke="#222" stroke-width="0.7" />
<line x1="315.50" y1="342.00" x2="321.50" y2="342.00" stroke="#222" stroke-width="0.7" />
<rect x="312.40" y="322.40" width="12.20" height="8.20" stroke="#333" stroke-width="0.7" fill="#00ff00" />
<line x1="312.40" y1="326.40" x2="324.60" y2="326.40" stroke="#000" stroke-width="1.6" />
<rect x="61.50" y="300.80" width="274.10" height="217.40" stroke="#555" stroke-width="1" fill="none" />
<line x1="56.60" y1="482.60" x2="61.50" y2="482.60" stroke="#555" stroke-width="1" />
<text x="47.60" y="484.62" font-size="5.6" text-anchor="middle" fill="#111" stroke="#111" stroke-width="0.22" >0</text>
<line x1="56.60" y1="432.85" x2="61.50" y2="432.85" stroke="#555" stroke-width="1" />
<text x="47.60" y="434.87" font-size="5.6" text-anchor="middle" fill="#111" stroke="#111" stroke-width="0.22" >5</text>
<line x1="56.60" y1="383.10" x2="61.50" y2="383.10" stroke="#555" stroke-width="1" />
<text x="47.60" y="385.12" font-size="5.6" text-anchor="middle" fill="#111" stroke="#111" stroke-width="0.22" >10</text>
<line x1="56.60" y1="333.35" x2="61.50" y2="333.35" stroke="#555" stroke-width="1" />
<text x="47.60" y="335.37" font-size="5.6" text-anchor="middle" fill="#111" stroke="#111" stroke-width="0.22" >15</text>
<line x1="78.90" y1="518.20" x2="78.90" y2="523.20" stroke="#555" stroke-width="1" />
<text transform="translate(80.90,528.3) rotate(-90)" font-size="5.7" text-anchor="end" fill="#111">shadowMin</text>
<line x1="93.88" y1="518.20" x2="93.88" y2="523.20" stroke="#555" stroke-width="1" />
<text transform="translate(95.88,528.3) rotate(-90)" font-size="5.7" text-anchor="end" fill="#111">shadowMean</text>
<line x1="108.85" y1="518.20" x2="108.85" y2="523.20" stroke="#555" stroke-width="1" />
<text transform="translate(110.85,528.3) rotate(-90)" font-size="5.7" text-anchor="end" fill="#111">shadowMax</text>
<line x1="123.83" y1="518.20" x2="123.83" y2="523.20" stroke="#555" stroke-width="1" />
<text transform="translate(125.83,528.3) rotate(-90)" font-size="5.7" text-anchor="end" fill="#111">CCR7</text>
<line x1="138.80" y1="518.20" x2="138.80" y2="523.20" stroke="#555" stroke-width="1" />
<text transform="translate(140.80,528.3) rotate(-90)" font-size="5.7" text-anchor="end" fill="#111">CCL25</text>
<line x1="153.78" y1="518.20" x2="153.78" y2="523.20" stroke="#555" stroke-width="1" />
<text transform="translate(155.78,528.3) rotate(-90)" font-size="5.7" text-anchor="end" fill="#111">CD8A</text>
<line x1="168.75" y1="518.20" x2="168.75" y2="523.20" stroke="#555" stroke-width="1" />
<text transform="translate(170.75,528.3) rotate(-90)" font-size="5.7" text-anchor="end" fill="#111">CCL22</text>
<line x1="183.73" y1="518.20" x2="183.73" y2="523.20" stroke="#555" stroke-width="1" />
<text transform="translate(185.73,528.3) rotate(-90)" font-size="5.7" text-anchor="end" fill="#111">CCR5</text>
<line x1="198.70" y1="518.20" x2="198.70" y2="523.20" stroke="#555" stroke-width="1" />
<text transform="translate(200.70,528.3) rotate(-90)" font-size="5.7" text-anchor="end" fill="#111">CCL17</text>
<line x1="213.68" y1="518.20" x2="213.68" y2="523.20" stroke="#555" stroke-width="1" />
<text transform="translate(215.68,528.3) rotate(-90)" font-size="5.7" text-anchor="end" fill="#111">CCL2</text>
<line x1="228.65" y1="518.20" x2="228.65" y2="523.20" stroke="#555" stroke-width="1" />
<text transform="translate(230.65,528.3) rotate(-90)" font-size="5.7" text-anchor="end" fill="#111">CCL19</text>
<line x1="243.62" y1="518.20" x2="243.62" y2="523.20" stroke="#555" stroke-width="1" />
<text transform="translate(245.62,528.3) rotate(-90)" font-size="5.7" text-anchor="end" fill="#111">CXCL2</text>
<line x1="258.60" y1="518.20" x2="258.60" y2="523.20" stroke="#555" stroke-width="1" />
<text transform="translate(260.60,528.3) rotate(-90)" font-size="5.7" text-anchor="end" fill="#111">CCL24</text>
<line x1="273.57" y1="518.20" x2="273.57" y2="523.20" stroke="#555" stroke-width="1" />
<text transform="translate(275.57,528.3) rotate(-90)" font-size="5.7" text-anchor="end" fill="#111">CX3CL1</text>
<line x1="288.55" y1="518.20" x2="288.55" y2="523.20" stroke="#555" stroke-width="1" />
<text transform="translate(290.55,528.3) rotate(-90)" font-size="5.7" text-anchor="end" fill="#111">CCL21</text>
<line x1="303.52" y1="518.20" x2="303.52" y2="523.20" stroke="#555" stroke-width="1" />
<text transform="translate(305.52,528.3) rotate(-90)" font-size="5.7" text-anchor="end" fill="#111">CCR9</text>
<line x1="318.50" y1="518.20" x2="318.50" y2="523.20" stroke="#555" stroke-width="1" />
<text transform="translate(320.50,528.3) rotate(-90)" font-size="5.7" text-anchor="end" fill="#111">CCL13</text>
<text transform="translate(27.20,409.00) rotate(-90)" font-size="8.9" text-anchor="middle" fill="#111" stroke="#111" stroke-width="0.22">Importance</text>
<text x="198.60" y="557.60" font-size="8.9" text-anchor="middle" fill="#111" stroke="#111" stroke-width="0.22" >Attributes</text>
<polyline points="406.80,463.74 409.50,465.99 412.21,466.40 414.92,469.27 417.62,465.93 420.32,459.76 423.03,462.96 425.74,460.11 428.44,463.78 431.14,463.10 433.85,464.07 436.56,472.69 439.26,460.95 441.97,462.58 444.67,462.61 447.38,472.81 450.08,473.06 452.79,469.08 455.49,467.12 458.19,463.51 460.90,465.15 463.61,462.51 466.31,467.93 469.01,463.50 471.72,463.10 474.43,468.01 477.13,456.94 479.84,462.34 482.54,459.36 485.25,467.82 487.95,468.38 490.66,466.54 493.36,465.43 496.06,461.99 498.77,463.78 501.48,467.02 504.18,469.39 506.88,467.36 509.59,459.25 512.30,468.70 515.00,463.80 517.71,462.95 520.41,471.87 523.12,464.71 525.82,458.85 528.52,474.32 531.23,466.43 533.94,465.43 536.64,468.74 539.35,462.62 542.05,465.23 544.75,471.76 547.46,461.08 550.16,461.82 552.87,460.53 555.58,458.23 558.28,463.25 560.99,464.38 563.69,470.99 566.39,462.07 569.10,467.78 571.81,467.04 574.51,470.83 577.22,469.44 579.92,467.41 582.62,458.93 585.33,474.40 588.04,471.72 590.74,463.82 593.45,458.21 596.15,462.24 598.86,473.78 601.56,476.66 604.26,463.27 606.97,468.36 609.67,470.15 612.38,460.38 615.09,459.80 617.79,464.20 620.50,463.79 623.20,462.91 625.90,457.51 628.61,462.05 631.32,462.52 634.02,462.38 636.73,472.24 639.43,458.97 642.13,460.49 644.84,462.47 647.55,474.13 650.25,467.89 652.96,461.01 655.66,473.37 658.37,465.79 661.07,460.19 663.78,471.04 666.48,457.44 669.18,462.36 671.89,465.63" fill="none" stroke="#ffff40" stroke-width="0.85" stroke-linejoin="round" />
<polyline points="406.80,443.39 409.50,444.45 412.21,439.12 414.92,448.52 417.62,447.23 420.32,439.66 423.03,444.94 425.74,449.65 428.44,440.15 431.14,437.45 433.85,447.39 436.56,452.25 439.26,445.78 441.97,445.85 444.67,446.62 447.38,437.77 450.08,450.42 452.79,438.52 455.49,451.67 458.19,449.17 460.90,441.79 463.61,439.21 466.31,440.61 469.01,443.28 471.72,444.33 474.43,444.28 477.13,442.08 479.84,445.99 482.54,443.63 485.25,442.10 487.95,445.07 490.66,441.10 493.36,442.13 496.06,434.62 498.77,443.39 501.48,447.30 504.18,447.01 506.88,445.14 509.59,440.27 512.30,446.83 515.00,443.07 517.71,435.52 520.41,458.41 523.12,450.92 525.82,443.81 528.52,443.00 531.23,443.83 533.94,447.32 536.64,441.67 539.35,443.61 542.05,447.79 544.75,432.44 547.46,443.23 550.16,447.96 552.87,445.59 555.58,446.25 558.28,445.40 560.99,459.26 563.69,447.61 566.39,439.83 569.10,451.15 571.81,445.42 574.51,440.12 577.22,440.62 579.92,437.32 582.62,453.92 585.33,446.91 588.04,446.85 590.74,441.83 593.45,439.40 596.15,459.03 598.86,439.41 601.56,452.60 604.26,441.52 606.97,452.84 609.67,444.16 612.38,438.86 615.09,445.85 617.79,444.08 620.50,440.93 623.20,444.34 625.90,445.54 628.61,437.10 631.32,439.62 634.02,446.60 636.73,430.80 639.43,451.04 642.13,440.32 644.84,446.46 647.55,444.39 650.25,441.41 652.96,443.92 655.66,441.75 658.37,453.02 661.07,452.93 663.78,441.88 666.48,450.08 669.18,450.41 671.89,452.72" fill="none" stroke="#3bef3b" stroke-width="0.85" stroke-linejoin="round" />
<polyline points="406.80,440.50 409.50,434.95 412.21,447.11 414.92,442.38 417.62,448.13 420.32,438.52 423.03,434.36 425.74,446.87 428.44,434.51 431.14,437.40 433.85,443.28 436.56,452.33 439.26,435.28 441.97,442.87 444.67,445.42 447.38,440.36 450.08,440.31 452.79,434.82 455.49,447.53 458.19,436.65 460.90,434.88 463.61,435.05 466.31,443.29 469.01,446.13 471.72,437.24 474.43,441.80 477.13,441.75 479.84,435.19 482.54,443.71 485.25,453.97 487.95,444.33 490.66,451.73 493.36,438.25 496.06,440.78 498.77,445.46 501.48,442.43 504.18,438.18 506.88,441.98 509.59,435.69 512.30,442.69 515.00,437.13 517.71,434.86 520.41,434.26 523.12,445.77 525.82,437.94 528.52,451.85 531.23,447.85 533.94,452.28 536.64,436.99 539.35,448.60 542.05,442.44 544.75,443.35 547.46,442.52 550.16,445.36 552.87,441.20 555.58,433.34 558.28,442.16 560.99,439.70 563.69,437.33 566.39,443.38 569.10,448.74 571.81,445.18 574.51,436.96 577.22,450.69 579.92,445.40 582.62,437.30 585.33,438.38 588.04,442.34 590.74,438.32 593.45,441.54 596.15,448.33 598.86,450.27 601.56,445.60 604.26,437.72 606.97,445.23 609.67,446.93 612.38,446.27 615.09,450.11 617.79,442.97 620.50,448.33 623.20,440.54 625.90,454.29 628.61,440.73 631.32,445.62 634.02,452.18 636.73,438.72 639.43,443.77 642.13,453.63 644.84,446.80 647.55,440.91 650.25,444.69 652.96,438.45 655.66,438.61 658.37,439.02 661.07,440.73 663.78,435.65 666.48,439.05 669.18,440.10 671.89,452.89" fill="none" stroke="#3bef3b" stroke-width="0.85" stroke-linejoin="round" />
<polyline points="406.80,419.05 409.50,425.11 412.21,426.21 414.92,410.87 417.62,434.41 420.32,420.23 423.03,407.79 425.74,429.12 428.44,418.83 431.14,411.21 433.85,423.98 436.56,419.65 439.26,417.47 441.97,428.98 444.67,423.79 447.38,421.36 450.08,417.97 452.79,423.44 455.49,424.46 458.19,429.69 460.90,425.50 463.61,417.54 466.31,422.57 469.01,428.65 471.72,428.58 474.43,406.25 477.13,415.96 479.84,419.16 482.54,439.72 485.25,419.26 487.95,420.16 490.66,412.50 493.36,420.50 496.06,423.65 498.77,419.89 501.48,435.59 504.18,416.64 506.88,421.15 509.59,427.69 512.30,414.78 515.00,411.70 517.71,432.15 520.41,427.46 523.12,421.37 525.82,422.05 528.52,425.76 531.23,429.42 533.94,409.72 536.64,416.62 539.35,430.82 542.05,431.78 544.75,412.38 547.46,416.92 550.16,411.63 552.87,418.06 555.58,428.77 558.28,421.56 560.99,436.97 563.69,427.98 566.39,423.59 569.10,419.89 571.81,427.85 574.51,424.01 577.22,420.30 579.92,420.82 582.62,419.16 585.33,421.89 588.04,425.28 590.74,418.20 593.45,422.90 596.15,428.48 598.86,427.20 601.56,423.22 604.26,423.92 606.97,422.22 609.67,423.22 612.38,422.10 615.09,424.07 617.79,431.23 620.50,420.54 623.20,416.51 625.90,420.45 628.61,424.42 631.32,420.38 634.02,429.37 636.73,435.29 639.43,422.84 642.13,429.14 644.84,418.51 647.55,430.12 650.25,439.95 652.96,429.84 655.66,413.17 658.37,425.65 661.07,431.94 663.78,428.08 666.48,419.90 669.18,420.06 671.89,422.09" fill="none" stroke="#3bef3b" stroke-width="0.85" stroke-linejoin="round" />
<polyline points="406.80,415.40 409.50,417.55 412.21,414.00 414.92,407.93 417.62,411.85 420.32,411.55 423.03,423.65 425.74,418.28 428.44,413.24 431.14,419.13 433.85,411.29 436.56,414.01 439.26,412.21 441.97,418.65 444.67,402.80 447.38,410.31 450.08,418.67 452.79,416.91 455.49,402.52 458.19,419.40 460.90,412.41 463.61,411.80 466.31,417.39 469.01,424.13 471.72,416.35 474.43,415.37 477.13,410.94 479.84,412.93 482.54,417.29 485.25,412.53 487.95,414.33 490.66,416.25 493.36,417.11 496.06,418.83 498.77,413.49 501.48,423.49 504.18,421.04 506.88,417.40 509.59,425.84 512.30,419.93 515.00,428.97 517.71,421.35 520.41,414.17 523.12,414.18 525.82,417.74 528.52,418.76 531.23,425.57 533.94,406.93 536.64,414.47 539.35,411.15 542.05,422.50 544.75,418.49 547.46,427.88 550.16,412.95 552.87,412.06 555.58,428.33 558.28,417.73 560.99,413.81 563.69,427.55 566.39,427.92 569.10,423.55 571.81,421.04 574.51,425.49 577.22,417.25 579.92,416.00 582.62,413.79 585.33,413.40 588.04,408.80 590.74,410.74 593.45,424.97 596.15,420.33 598.86,423.52 601.56,423.61 604.26,417.90 606.97,417.40 609.67,414.61 612.38,426.55 615.09,424.54 617.79,417.56 620.50,418.58 623.20,419.22 625.90,417.79 628.61,421.79 631.32,413.40 634.02,415.40 636.73,417.93 639.43,421.29 642.13,418.43 644.84,433.06 647.55,423.07 650.25,417.22 652.96,426.07 655.66,416.28 658.37,416.58 661.07,425.34 663.78,418.87 666.48,419.23 669.18,414.79 671.89,413.92" fill="none" stroke="#3bef3b" stroke-width="0.85" stroke-linejoin="round" />
<polyline points="406.80,405.90 409.50,404.29 412.21,403.83 414.92,399.24 417.62,401.77 420.32,407.61 423.03,411.24 425.74,405.60 428.44,407.71 431.14,409.85 433.85,404.12 436.56,406.28 439.26,402.85 441.97,400.45 444.67,405.83 447.38,390.11 450.08,405.31 452.79,397.13 455.49,402.76 458.19,397.05 460.90,417.11 463.61,407.78 466.31,402.04 469.01,400.00 471.72,390.04 474.43,401.61 477.13,396.11 479.84,399.06 482.54,398.02 485.25,400.53 487.95,404.36 490.66,400.53 493.36,409.65 496.06,396.67 498.77,409.30 501.48,402.03 504.18,391.28 506.88,404.74 509.59,403.35 512.30,396.78 515.00,403.31 517.71,408.10 520.41,401.98 523.12,400.12 525.82,399.38 528.52,407.90 531.23,393.39 533.94,393.88 536.64,403.35 539.35,401.92 542.05,405.92 544.75,395.34 547.46,407.51 550.16,399.59 552.87,406.21 555.58,407.45 558.28,399.33 560.99,395.80 563.69,403.52 566.39,407.35 569.10,398.80 571.81,403.74 574.51,401.67 577.22,394.71 579.92,396.96 582.62,406.44 585.33,390.34 588.04,403.44 590.74,398.94 593.45,407.18 596.15,403.72 598.86,413.51 601.56,393.20 604.26,395.61 606.97,410.44 609.67,412.10 612.38,412.77 615.09,396.71 617.79,406.10 620.50,403.81 623.20,405.26 625.90,404.15 628.61,409.71 631.32,403.32 634.02,411.72 636.73,403.87 639.43,401.69 642.13,400.77 644.84,404.79 647.55,408.65 650.25,402.54 652.96,406.24 655.66,394.46 658.37,399.05 661.07,404.12 663.78,406.17 666.48,407.49 669.18,408.84 671.89,405.49" fill="none" stroke="#3bef3b" stroke-width="0.85" stroke-linejoin="round" />
<polyline points="406.80,397.59 409.50,395.80 412.21,387.01 414.92,403.12 417.62,398.99 420.32,383.02 423.03,409.79 425.74,402.06 428.44,398.09 431.14,398.18 433.85,396.72 436.56,400.44 439.26,396.96 441.97,398.76 444.67,394.64 447.38,409.94 450.08,404.15 452.79,399.08 455.49,404.99 458.19,405.07 460.90,395.46 463.61,402.80 466.31,395.42 469.01,394.78 471.72,397.31 474.43,396.15 477.13,399.67 479.84,407.16 482.54,399.24 485.25,396.46 487.95,402.11 490.66,399.64 493.36,394.76 496.06,404.11 498.77,395.39 501.48,388.37 504.18,402.25 506.88,398.23 509.59,399.93 512.30,390.22 515.00,397.25 517.71,393.91 520.41,403.03 523.12,399.16 525.82,399.12 528.52,409.27 531.23,390.79 533.94,393.90 536.64,409.11 539.35,394.79 542.05,399.82 544.75,396.49 547.46,396.96 550.16,407.68 552.87,400.29 555.58,390.49 558.28,402.37 560.99,404.94 563.69,406.88 566.39,406.08 569.10,397.14 571.81,389.35 574.51,396.60 577.22,397.66 579.92,386.24 582.62,402.05 585.33,402.94 588.04,396.03 590.74,395.92 593.45,404.90 596.15,405.79 598.86,397.40 601.56,397.65 604.26,406.57 606.97,400.23 609.67,402.18 612.38,396.43 615.09,399.74 617.79,399.56 620.50,401.10 623.20,393.02 625.90,391.08 628.61,401.18 631.32,394.21 634.02,403.42 636.73,398.65 639.43,394.76 642.13,390.37 644.84,401.27 647.55,399.49 650.25,397.94 652.96,407.67 655.66,398.98 658.37,402.95 661.07,396.93 663.78,405.56 666.48,410.42 669.18,398.85 671.89,397.57" fill="none" stroke="#3bef3b" stroke-width="0.85" stroke-linejoin="round" />
<polyline points="406.80,376.98 409.50,381.38 412.21,383.42 414.92,376.78 417.62,389.32 420.32,383.86 423.03,379.83 425.74,374.50 428.44,380.70 431.14,377.82 433.85,383.73 436.56,377.86 439.26,369.51 441.97,383.92 444.67,365.20 447.38,383.65 450.08,379.60 452.79,378.64 455.49,373.43 458.19,387.29 460.90,392.59 463.61,375.99 466.31,374.83 469.01,375.88 471.72,363.58 474.43,378.45 477.13,378.15 479.84,374.01 482.54,377.44 485.25,369.50 487.95,387.30 490.66,382.01 493.36,400.83 496.06,374.72 498.77,381.99 501.48,374.04 504.18,366.50 506.88,379.74 509.59,381.27 512.30,382.77 515.00,384.84 517.71,383.57 520.41,375.79 523.12,379.48 525.82,379.30 528.52,380.77 531.23,374.10 533.94,376.68 536.64,380.58 539.35,375.63 542.05,380.64 544.75,386.78 547.46,370.78 550.16,376.85 552.87,385.58 555.58,373.09 558.28,377.59 560.99,389.30 563.69,369.83 566.39,377.66 569.10,374.24 571.81,378.49 574.51,380.62 577.22,389.20 579.92,373.75 582.62,379.52 585.33,381.46 588.04,377.55 590.74,379.23 593.45,375.56 596.15,381.98 598.86,379.93 601.56,392.82 604.26,382.30 606.97,375.56 609.67,371.51 612.38,381.94 615.09,380.45 617.79,370.00 620.50,381.70 623.20,375.21 625.90,369.42 628.61,379.46 631.32,372.18 634.02,384.06 636.73,378.43 639.43,380.18 642.13,379.00 644.84,372.78 647.55,365.05 650.25,383.79 652.96,383.23 655.66,376.66 658.37,386.18 661.07,376.66 663.78,376.20 666.48,381.41 669.18,376.45 671.89,389.21" fill="none" stroke="#3bef3b" stroke-width="0.85" stroke-linejoin="round" />
<polyline points="406.80,382.21 409.50,381.79 412.21,381.03 414.92,380.19 417.62,373.34 420.32,377.57 423.03,380.17 425.74,375.06 428.44,369.42 431.14,377.98 433.85,376.02 436.56,371.27 439.26,376.55 441.97,384.99 444.67,364.48 447.38,366.01 450.08,388.79 452.79,378.22 455.49,375.74 458.19,372.76 460.90,374.38 463.61,379.49 466.31,383.74 469.01,377.45 471.72,372.39 474.43,383.93 477.13,383.59 479.84,378.14 482.54,388.54 485.25,379.42 487.95,380.38 490.66,375.56 493.36,381.82 496.06,382.80 498.77,380.15 501.48,378.28 504.18,381.62 506.88,377.94 509.59,373.93 512.30,371.57 515.00,368.75 517.71,382.27 520.41,380.29 523.12,391.50 525.82,367.69 528.52,381.95 531.23,378.19 533.94,375.17 536.64,385.39 539.35,375.49 542.05,378.15 544.75,387.93 547.46,376.42 550.16,371.52 552.87,388.16 555.58,373.62 558.28,376.87 560.99,375.43 563.69,375.61 566.39,370.93 569.10,379.23 571.81,373.26 574.51,380.24 577.22,374.05 579.92,382.43 582.62,378.60 585.33,368.60 588.04,375.59 590.74,378.87 593.45,384.23 596.15,382.30 598.86,376.96 601.56,372.91 604.26,375.70 606.97,375.16 609.67,378.24 612.38,370.66 615.09,380.13 617.79,381.00 620.50,373.18 623.20,377.66 625.90,379.52 628.61,381.14 631.32,379.41 634.02,374.62 636.73,376.09 639.43,384.58 642.13,375.69 644.84,377.04 647.55,383.44 650.25,373.81 652.96,379.53 655.66,379.83 658.37,373.69 661.07,370.83 663.78,381.75 666.48,375.63 669.18,382.77 671.89,365.44" fill="none" stroke="#3bef3b" stroke-width="0.85" stroke-linejoin="round" />
<polyline points="406.80,369.64 409.50,376.89 412.21,368.40 414.92,360.20 417.62,387.91 420.32,375.65 423.03,370.21 425.74,373.66 428.44,377.01 431.14,360.59 433.85,372.66 436.56,382.69 439.26,368.15 441.97,383.14 444.67,366.42 447.38,376.48 450.08,372.28 452.79,365.78 455.49,372.43 458.19,381.22 460.90,382.99 463.61,366.24 466.31,368.81 469.01,377.87 471.72,368.12 474.43,370.23 477.13,369.35 479.84,386.27 482.54,374.88 485.25,367.88 487.95,368.85 490.66,367.99 493.36,387.43 496.06,372.14 498.77,370.25 501.48,358.26 504.18,378.67 506.88,375.04 509.59,372.91 512.30,367.96 515.00,375.70 517.71,366.44 520.41,377.71 523.12,371.57 525.82,376.19 528.52,372.20 531.23,377.14 533.94,382.42 536.64,366.76 539.35,371.35 542.05,376.37 544.75,371.95 547.46,367.36 550.16,378.81 552.87,373.76 555.58,369.98 558.28,370.06 560.99,375.07 563.69,385.39 566.39,365.88 569.10,371.21 571.81,373.04 574.51,374.74 577.22,371.59 579.92,375.60 582.62,379.09 585.33,377.43 588.04,376.59 590.74,376.68 593.45,379.87 596.15,369.42 598.86,380.75 601.56,369.28 604.26,379.03 606.97,371.07 609.67,365.12 612.38,371.94 615.09,377.37 617.79,372.84 620.50,372.26 623.20,383.21 625.90,376.66 628.61,372.17 631.32,375.85 634.02,372.66 636.73,368.85 639.43,368.66 642.13,367.85 644.84,369.69 647.55,374.80 650.25,373.23 652.96,374.70 655.66,374.94 658.37,374.17 661.07,383.16 663.78,375.06 666.48,373.26 669.18,378.79 671.89,373.26" fill="none" stroke="#3bef3b" stroke-width="0.85" stroke-linejoin="round" />
<polyline points="406.80,370.55 409.50,356.81 412.21,386.62 414.92,371.34 417.62,381.64 420.32,363.79 423.03,353.13 425.74,385.95 428.44,369.21 431.14,366.72 433.85,371.95 436.56,366.51 439.26,384.30 441.97,364.60 444.67,367.66 447.38,369.88 450.08,373.77 452.79,365.96 455.49,373.12 458.19,368.61 460.90,373.27 463.61,384.33 466.31,370.23 469.01,368.74 471.72,365.22 474.43,375.60 477.13,370.24 479.84,366.10 482.54,369.10 485.25,362.12 487.95,357.35 490.66,375.81 493.36,382.25 496.06,364.57 498.77,360.29 501.48,364.16 504.18,364.85 506.88,373.96 509.59,374.57 512.30,364.37 515.00,375.83 517.71,381.57 520.41,376.38 523.12,354.16 525.82,357.78 528.52,374.40 531.23,374.67 533.94,368.55 536.64,374.80 539.35,361.69 542.05,370.52 544.75,376.94 547.46,361.70 550.16,373.74 552.87,368.62 555.58,370.11 558.28,372.03 560.99,367.96 563.69,374.43 566.39,381.77 569.10,384.08 571.81,378.09 574.51,374.85 577.22,370.17 579.92,369.67 582.62,366.49 585.33,369.26 588.04,375.08 590.74,374.54 593.45,383.51 596.15,371.10 598.86,366.94 601.56,366.65 604.26,370.80 606.97,371.13 609.67,364.07 612.38,369.93 615.09,365.33 617.79,366.32 620.50,368.67 623.20,361.71 625.90,373.67 628.61,372.31 631.32,375.17 634.02,375.10 636.73,360.12 639.43,358.83 642.13,369.88 644.84,366.41 647.55,362.55 650.25,364.89 652.96,362.35 655.66,378.06 658.37,374.10 661.07,367.15 663.78,360.89 666.48,369.37 669.18,375.49 671.89,372.28" fill="none" stroke="#3bef3b" stroke-width="0.85" stroke-linejoin="round" />
<polyline points="406.80,358.89 409.50,346.60 412.21,360.14 414.92,356.02 417.62,342.39 420.32,348.61 423.03,354.01 425.74,360.05 428.44,353.54 431.14,345.83 433.85,352.19 436.56,348.12 439.26,355.53 441.97,352.87 444.67,357.43 447.38,353.44 450.08,347.88 452.79,365.26 455.49,356.55 458.19,354.62 460.90,359.79 463.61,358.11 466.31,351.15 469.01,343.41 471.72,352.15 474.43,354.08 477.13,366.03 479.84,343.89 482.54,355.66 485.25,356.37 487.95,363.27 490.66,356.52 493.36,363.13 496.06,355.70 498.77,353.19 501.48,355.96 504.18,354.37 506.88,361.58 509.59,347.05 512.30,360.31 515.00,367.73 517.71,357.35 520.41,361.02 523.12,362.58 525.82,358.41 528.52,354.30 531.23,363.68 533.94,357.03 536.64,347.07 539.35,351.81 542.05,357.12 544.75,355.34 547.46,356.92 550.16,356.46 552.87,351.49 555.58,356.74 558.28,371.46 560.99,356.29 563.69,361.82 566.39,352.01 569.10,360.04 571.81,355.21 574.51,342.30 577.22,362.82 579.92,363.31 582.62,365.14 585.33,371.40 588.04,368.11 590.74,353.83 593.45,360.22 596.15,368.04 598.86,365.59 601.56,352.23 604.26,361.09 606.97,358.49 609.67,354.05 612.38,347.52 615.09,343.80 617.79,349.58 620.50,355.24 623.20,354.98 625.90,344.68 628.61,347.06 631.32,358.13 634.02,353.24 636.73,354.33 639.43,355.82 642.13,359.34 644.84,364.60 647.55,359.55 650.25,365.98 652.96,348.36 655.66,352.74 658.37,363.83 661.07,347.27 663.78,350.48 666.48,368.30 669.18,344.43 671.89,351.00" fill="none" stroke="#3bef3b" stroke-width="0.85" stroke-linejoin="round" />
<polyline points="406.80,331.49 409.50,324.46 412.21,325.12 414.92,326.47 417.62,326.66 420.32,321.25 423.03,336.88 425.74,335.33 428.44,336.26 431.14,331.13 433.85,331.42 436.56,325.46 439.26,326.08 441.97,327.52 444.67,331.86 447.38,330.42 450.08,321.87 452.79,323.03 455.49,327.09 458.19,329.69 460.90,318.19 463.61,331.35 466.31,323.73 469.01,320.64 471.72,329.34 474.43,322.65 477.13,334.55 479.84,321.50 482.54,326.49 485.25,337.44 487.95,323.61 490.66,333.18 493.36,319.85 496.06,331.87 498.77,328.72 501.48,325.98 504.18,329.75 506.88,326.12 509.59,331.10 512.30,323.59 515.00,327.68 517.71,326.42 520.41,344.59 523.12,320.59 525.82,327.52 528.52,338.64 531.23,327.13 533.94,324.85 536.64,321.15 539.35,334.35 542.05,318.22 544.75,328.69 547.46,313.03 550.16,328.61 552.87,323.54 555.58,329.96 558.28,334.55 560.99,320.99 563.69,322.15 566.39,318.28 569.10,322.46 571.81,331.23 574.51,337.91 577.22,331.70 579.92,331.85 582.62,332.71 585.33,324.14 588.04,325.70 590.74,329.37 593.45,326.65 596.15,328.60 598.86,326.41 601.56,323.10 604.26,321.83 606.97,331.92 609.67,336.95 612.38,318.96 615.09,327.01 617.79,320.93 620.50,337.79 623.20,329.73 625.90,327.55 628.61,336.55 631.32,330.87 634.02,323.27 636.73,321.10 639.43,317.94 642.13,333.01 644.84,336.30 647.55,324.52 650.25,321.94 652.96,326.53 655.66,335.69 658.37,322.92 661.07,322.85 663.78,324.32 666.48,330.70 669.18,325.85 671.89,322.86" fill="none" stroke="#3bef3b" stroke-width="0.85" stroke-linejoin="round" />
<polyline points="406.80,332.28 409.50,324.32 412.21,323.35 414.92,326.33 417.62,320.75 420.32,330.15 423.03,326.94 425.74,328.36 428.44,322.78 431.14,316.26 433.85,328.01 436.56,313.33 439.26,316.68 441.97,321.38 444.67,322.68 447.38,315.14 450.08,327.56 452.79,327.13 455.49,333.18 458.19,323.40 460.90,317.85 463.61,323.03 466.31,323.72 469.01,327.69 471.72,325.33 474.43,335.48 477.13,319.74 479.84,329.02 482.54,333.44 485.25,331.20 487.95,331.66 490.66,320.97 493.36,319.68 496.06,335.06 498.77,320.52 501.48,320.76 504.18,330.10 506.88,335.88 509.59,331.16 512.30,330.45 515.00,324.23 517.71,328.69 520.41,339.32 523.12,324.93 525.82,336.18 528.52,320.65 531.23,334.10 533.94,330.82 536.64,331.85 539.35,329.87 542.05,318.15 544.75,320.99 547.46,322.58 550.16,324.38 552.87,336.27 555.58,329.73 558.28,329.93 560.99,332.64 563.69,323.17 566.39,331.13 569.10,330.93 571.81,333.06 574.51,339.51 577.22,322.63 579.92,317.94 582.62,325.30 585.33,332.63 588.04,343.63 590.74,325.31 593.45,318.67 596.15,324.52 598.86,320.51 601.56,317.01 604.26,319.24 606.97,329.22 609.67,319.72 612.38,321.48 615.09,336.20 617.79,328.99 620.50,335.48 623.20,327.11 625.90,322.73 628.61,333.21 631.32,339.50 634.02,318.15 636.73,324.02 639.43,317.05 642.13,334.84 644.84,319.66 647.55,313.21 650.25,313.64 652.96,327.75 655.66,324.70 658.37,327.39 661.07,320.06 663.78,319.81 666.48,325.86 669.18,335.06 671.89,321.70" fill="none" stroke="#3bef3b" stroke-width="0.85" stroke-linejoin="round" />
<polyline points="406.80,497.50 409.50,497.70 412.21,492.21 414.92,494.17 417.62,500.59 420.32,497.36 423.03,491.65 425.74,500.94 428.44,497.02 431.14,493.96 433.85,493.69 436.56,496.67 439.26,504.10 441.97,503.86 444.67,497.77 447.38,497.20 450.08,488.48 452.79,502.24 455.49,494.17 458.19,495.66 460.90,505.51 463.61,502.07 466.31,498.10 469.01,500.76 471.72,499.39 474.43,496.87 477.13,502.03 479.84,496.88 482.54,501.34 485.25,500.97 487.95,496.60 490.66,501.08 493.36,497.61 496.06,492.31 498.77,498.66 501.48,499.36 504.18,495.80 506.88,500.24 509.59,494.40 512.30,503.94 515.00,496.27 517.71,500.83 520.41,501.99 523.12,491.62 525.82,502.20 528.52,491.68 531.23,496.11 533.94,492.90 536.64,502.71 539.35,493.93 542.05,492.89 544.75,499.24 547.46,499.29 550.16,488.85 552.87,498.05 555.58,500.47 558.28,501.31 560.99,496.97 563.69,497.43 566.39,498.05 569.10,491.82 571.81,500.09 574.51,496.86 577.22,492.88 579.92,502.82 582.62,494.57 585.33,491.37 588.04,504.24 590.74,503.20 593.45,502.96 596.15,506.22 598.86,496.94 601.56,506.26 604.26,496.75 606.97,492.90 609.67,505.29 612.38,500.04 615.09,506.51 617.79,495.62 620.50,501.74 623.20,499.84 625.90,498.55 628.61,496.57 631.32,500.17 634.02,498.71 636.73,500.97 639.43,498.30 642.13,503.50 644.84,498.51 647.55,506.57 650.25,500.75 652.96,491.04 655.66,498.45 658.37,503.85 661.07,497.73 663.78,502.69 666.48,505.43 669.18,501.74 671.89,495.79" fill="none" stroke="#4a4aff" stroke-width="0.85" stroke-linejoin="round" />
<polyline points="406.80,482.60 409.50,486.14 412.21,486.75 414.92,476.95 417.62,481.41 420.32,486.24 423.03,490.92 425.74,487.93 428.44,472.41 431.14,487.04 433.85,482.71 436.56,481.55 439.26,483.04 441.97,483.52 444.67,487.94 447.38,486.64 450.08,475.58 452.79,485.45 455.49,478.99 458.19,489.24 460.90,483.51 463.61,481.35 466.31,478.22 469.01,486.93 471.72,480.00 474.43,480.84 477.13,485.38 479.84,480.47 482.54,486.02 485.25,485.61 487.95,482.48 490.66,493.35 493.36,482.84 496.06,486.44 498.77,488.30 501.48,484.12 504.18,479.32 506.88,484.03 509.59,477.29 512.30,487.08 515.00,487.70 517.71,476.14 520.41,480.79 523.12,478.59 525.82,485.74 528.52,479.15 531.23,481.35 533.94,479.78 536.64,482.30 539.35,477.53 542.05,485.02 544.75,486.29 547.46,488.36 550.16,477.72 552.87,485.38 555.58,486.61 558.28,486.19 560.99,484.20 563.69,487.53 566.39,483.57 569.10,484.93 571.81,484.62 574.51,486.27 577.22,482.25 579.92,484.26 582.62,481.94 585.33,481.39 588.04,481.03 590.74,491.24 593.45,484.56 596.15,485.61 598.86,479.27 601.56,488.77 604.26,485.28 606.97,483.59 609.67,483.76 612.38,478.40 615.09,484.19 617.79,478.51 620.50,488.32 623.20,489.71 625.90,477.48 628.61,480.64 631.32,480.43 634.02,481.90 636.73,480.44 639.43,487.31 642.13,478.57 644.84,484.55 647.55,478.42 650.25,482.05 652.96,490.37 655.66,487.59 658.37,477.85 661.07,482.95 663.78,484.00 666.48,481.42 669.18,484.12 671.89,484.60" fill="none" stroke="#4a4aff" stroke-width="0.85" stroke-linejoin="round" />
<polyline points="406.80,466.01 409.50,459.62 412.21,466.13 414.92,458.02 417.62,458.36 420.32,458.74 423.03,461.64 425.74,465.75 428.44,465.73 431.14,466.96 433.85,469.57 436.56,466.63 439.26,469.17 441.97,459.08 444.67,463.97 447.38,468.31 450.08,474.81 452.79,466.57 455.49,468.17 458.19,471.14 460.90,471.36 463.61,476.29 466.31,463.81 469.01,466.62 471.72,454.91 474.43,466.47 477.13,466.99 479.84,459.94 482.54,465.74 485.25,465.59 487.95,467.98 490.66,469.01 493.36,459.70 496.06,461.91 498.77,458.74 501.48,467.88 504.18,466.20 506.88,470.23 509.59,462.05 512.30,472.50 515.00,463.83 517.71,461.48 520.41,460.09 523.12,470.49 525.82,461.51 528.52,469.49 531.23,469.68 533.94,472.19 536.64,461.22 539.35,459.04 542.05,468.96 544.75,469.69 547.46,467.83 550.16,455.24 552.87,461.89 555.58,468.73 558.28,474.27 560.99,469.31 563.69,461.08 566.39,458.07 569.10,467.51 571.81,469.39 574.51,468.59 577.22,474.68 579.92,462.31 582.62,471.14 585.33,461.63 588.04,473.89 590.74,471.95 593.45,465.06 596.15,469.71 598.86,462.88 601.56,466.30 604.26,471.53 606.97,463.58 609.67,462.61 612.38,474.80 615.09,458.25 617.79,464.13 620.50,462.97 623.20,474.56 625.90,469.52 628.61,467.88 631.32,461.57 634.02,472.79 636.73,470.24 639.43,475.31 642.13,467.40 644.84,464.80 647.55,473.79 650.25,468.95 652.96,464.07 655.66,459.32 658.37,463.39 661.07,467.68 663.78,471.54 666.48,470.48 669.18,469.27 671.89,465.68" fill="none" stroke="#4a4aff" stroke-width="0.85" stroke-linejoin="round" />
<rect x="396.60" y="300.70" width="284.60" height="217.10" stroke="#555" stroke-width="1" fill="none" />
<line x1="391.50" y1="482.30" x2="396.60" y2="482.30" stroke="#555" stroke-width="1" />
<text transform="translate(383.81,482.30) rotate(-90)" font-size="9.2" text-anchor="middle" fill="#111" stroke="#111" stroke-width="0.22">0</text>
<line x1="391.50" y1="432.65" x2="396.60" y2="432.65" stroke="#555" stroke-width="1" />
<text transform="translate(383.81,432.65) rotate(-90)" font-size="9.2" text-anchor="middle" fill="#111" stroke="#111" stroke-width="0.22">5</text>
<line x1="391.50" y1="383.00" x2="396.60" y2="383.00" stroke="#555" stroke-width="1" />
<text transform="translate(383.81,383.00) rotate(-90)" font-size="9.2" text-anchor="middle" fill="#111" stroke="#111" stroke-width="0.22">10</text>
<line x1="391.50" y1="333.35" x2="396.60" y2="333.35" stroke="#555" stroke-width="1" />
<text transform="translate(383.81,333.35) rotate(-90)" font-size="9.2" text-anchor="middle" fill="#111" stroke="#111" stroke-width="0.22">15</text>
<line x1="406.80" y1="517.80" x2="406.80" y2="522.80" stroke="#555" stroke-width="1" />
<text x="406.80" y="537.09" font-size="8.3" text-anchor="middle" fill="#111" stroke="#111" stroke-width="0.22" >0</text>
<line x1="460.90" y1="517.80" x2="460.90" y2="522.80" stroke="#555" stroke-width="1" />
<text x="460.90" y="537.09" font-size="8.3" text-anchor="middle" fill="#111" stroke="#111" stroke-width="0.22" >20</text>
<line x1="515.00" y1="517.80" x2="515.00" y2="522.80" stroke="#555" stroke-width="1" />
<text x="515.00" y="537.09" font-size="8.3" text-anchor="middle" fill="#111" stroke="#111" stroke-width="0.22" >40</text>
<line x1="569.10" y1="517.80" x2="569.10" y2="522.80" stroke="#555" stroke-width="1" />
<text x="569.10" y="537.09" font-size="8.3" text-anchor="middle" fill="#111" stroke="#111" stroke-width="0.22" >60</text>
<line x1="623.20" y1="517.80" x2="623.20" y2="522.80" stroke="#555" stroke-width="1" />
<text x="623.20" y="537.09" font-size="8.3" text-anchor="middle" fill="#111" stroke="#111" stroke-width="0.22" >80</text>
<line x1="677.30" y1="517.80" x2="677.30" y2="522.80" stroke="#555" stroke-width="1" />
<text x="677.30" y="537.09" font-size="8.3" text-anchor="middle" fill="#111" stroke="#111" stroke-width="0.22" >100</text>
<text transform="translate(362.57,409.00) rotate(-90)" font-size="8.8" text-anchor="middle" fill="#111" stroke="#111" stroke-width="0.22">Importance</text>
<text x="539.40" y="557.77" font-size="8.8" text-anchor="middle" fill="#111" stroke="#111" stroke-width="0.22" >Classifier run</text>
<polyline points="73.90,829.60 93.30,642.50 112.40,642.50 131.50,610.40 151.40,619.70 170.20,616.00 189.90,624.70 209.20,647.20 228.30,648.00 247.70,651.00 266.80,655.70 286.60,652.50 306.00,651.00 325.10,658.90" fill="none" stroke="#1e90ff" stroke-width="2.0" stroke-linejoin="round" />
<circle cx="132" cy="610.2" r="2.5" fill="none" stroke="#ff0000" stroke-width="0.7"/>
<text x="126.00" y="613.26" font-size="11" text-anchor="end" fill="#ff0000" stroke="#ff0000" stroke-width="0.22" >4 − 0.998</text>
<rect x="64.00" y="601.60" width="271.00" height="236.80" stroke="#555" stroke-width="1" fill="none" />
<line x1="58.40" y1="803.50" x2="64.00" y2="803.50" stroke="#555" stroke-width="1" />
<text transform="translate(50.65,803.50) rotate(-90)" font-size="9.3" text-anchor="middle" fill="#111" stroke="#111" stroke-width="0.22">0.988</text>
<line x1="58.40" y1="764.90" x2="64.00" y2="764.90" stroke="#555" stroke-width="1" />
<text transform="translate(50.65,764.90) rotate(-90)" font-size="9.3" text-anchor="middle" fill="#111" stroke="#111" stroke-width="0.22">0.990</text>
<line x1="58.40" y1="726.30" x2="64.00" y2="726.30" stroke="#555" stroke-width="1" />
<text transform="translate(50.65,726.30) rotate(-90)" font-size="9.3" text-anchor="middle" fill="#111" stroke="#111" stroke-width="0.22">0.992</text>
<line x1="58.40" y1="687.70" x2="64.00" y2="687.70" stroke="#555" stroke-width="1" />
<text transform="translate(50.65,687.70) rotate(-90)" font-size="9.3" text-anchor="middle" fill="#111" stroke="#111" stroke-width="0.22">0.994</text>
<line x1="58.40" y1="649.10" x2="64.00" y2="649.10" stroke="#555" stroke-width="1" />
<text transform="translate(50.65,649.10) rotate(-90)" font-size="9.3" text-anchor="middle" fill="#111" stroke="#111" stroke-width="0.22">0.996</text>
<line x1="58.40" y1="610.50" x2="64.00" y2="610.50" stroke="#555" stroke-width="1" />
<text transform="translate(50.65,610.50) rotate(-90)" font-size="9.3" text-anchor="middle" fill="#111" stroke="#111" stroke-width="0.22">0.998</text>
<line x1="92.85" y1="838.40" x2="92.85" y2="844.00" stroke="#555" stroke-width="1" />
<text x="92.85" y="859.22" font-size="9.5" text-anchor="middle" fill="#111" stroke="#111" stroke-width="0.22" >2</text>
<line x1="131.55" y1="838.40" x2="131.55" y2="844.00" stroke="#555" stroke-width="1" />
<text x="131.55" y="859.22" font-size="9.5" text-anchor="middle" fill="#111" stroke="#111" stroke-width="0.22" >4</text>
<line x1="170.25" y1="838.40" x2="170.25" y2="844.00" stroke="#555" stroke-width="1" />
<text x="170.25" y="859.22" font-size="9.5" text-anchor="middle" fill="#111" stroke="#111" stroke-width="0.22" >6</text>
<line x1="208.95" y1="838.40" x2="208.95" y2="844.00" stroke="#555" stroke-width="1" />
<text x="208.95" y="859.22" font-size="9.5" text-anchor="middle" fill="#111" stroke="#111" stroke-width="0.22" >8</text>
<line x1="247.65" y1="838.40" x2="247.65" y2="844.00" stroke="#555" stroke-width="1" />
<text x="247.65" y="859.22" font-size="9.5" text-anchor="middle" fill="#111" stroke="#111" stroke-width="0.22" >10</text>
<line x1="286.35" y1="838.40" x2="286.35" y2="844.00" stroke="#555" stroke-width="1" />
<text x="286.35" y="859.22" font-size="9.5" text-anchor="middle" fill="#111" stroke="#111" stroke-width="0.22" >12</text>
<line x1="325.05" y1="838.40" x2="325.05" y2="844.00" stroke="#555" stroke-width="1" />
<text x="325.05" y="859.22" font-size="9.5" text-anchor="middle" fill="#111" stroke="#111" stroke-width="0.22" >14</text>
<text transform="translate(28.42,719.50) rotate(-90)" font-size="9.5" text-anchor="middle" fill="#111" stroke="#111" stroke-width="0.22">10x CV Accuracy</text>
<text x="199.40" y="881.62" font-size="9.5" text-anchor="middle" fill="#111" stroke="#111" stroke-width="0.22" >Number of Features</text>
<polyline points="407.50,609.40 427.80,796.40 447.90,796.40 468.30,828.70 488.40,819.80 508.20,823.00 528.70,815.00 549.10,792.00 569.30,791.30 589.50,788.50 609.60,783.60 630.10,787.20 650.00,788.50 670.40,780.60" fill="none" stroke="#1e90ff" stroke-width="2.0" stroke-linejoin="round" />
<circle cx="468.5" cy="828.9" r="2.5" fill="none" stroke="#ff0000" stroke-width="0.7"/>
<text x="461.60" y="832.27" font-size="11.3" text-anchor="end" fill="#ff0000" stroke="#ff0000" stroke-width="0.22" >4 − 0.00197</text>
<rect x="397.30" y="601.20" width="283.40" height="236.90" stroke="#555" stroke-width="1" fill="none" />
<line x1="391.20" y1="828.70" x2="397.30" y2="828.70" stroke="#555" stroke-width="1" />
<text transform="translate(382.25,828.70) rotate(-90)" font-size="9.3" text-anchor="middle" fill="#111" stroke="#111" stroke-width="0.22">0.002</text>
<line x1="391.20" y1="790.10" x2="397.30" y2="790.10" stroke="#555" stroke-width="1" />
<text transform="translate(382.25,790.10) rotate(-90)" font-size="9.3" text-anchor="middle" fill="#111" stroke="#111" stroke-width="0.22">0.004</text>
<line x1="391.20" y1="751.50" x2="397.30" y2="751.50" stroke="#555" stroke-width="1" />
<text transform="translate(382.25,751.50) rotate(-90)" font-size="9.3" text-anchor="middle" fill="#111" stroke="#111" stroke-width="0.22">0.006</text>
<line x1="391.20" y1="712.90" x2="397.30" y2="712.90" stroke="#555" stroke-width="1" />
<text transform="translate(382.25,712.90) rotate(-90)" font-size="9.3" text-anchor="middle" fill="#111" stroke="#111" stroke-width="0.22">0.008</text>
<line x1="391.20" y1="674.30" x2="397.30" y2="674.30" stroke="#555" stroke-width="1" />
<text transform="translate(382.25,674.30) rotate(-90)" font-size="9.3" text-anchor="middle" fill="#111" stroke="#111" stroke-width="0.22">0.010</text>
<line x1="391.20" y1="635.70" x2="397.30" y2="635.70" stroke="#555" stroke-width="1" />
<text transform="translate(382.25,635.70) rotate(-90)" font-size="9.3" text-anchor="middle" fill="#111" stroke="#111" stroke-width="0.22">0.012</text>
<line x1="427.80" y1="838.10" x2="427.80" y2="844.00" stroke="#555" stroke-width="1" />
<text x="427.80" y="859.02" font-size="9.5" text-anchor="middle" fill="#111" stroke="#111" stroke-width="0.22" >2</text>
<line x1="468.00" y1="838.10" x2="468.00" y2="844.00" stroke="#555" stroke-width="1" />
<text x="468.00" y="859.02" font-size="9.5" text-anchor="middle" fill="#111" stroke="#111" stroke-width="0.22" >4</text>
<line x1="508.20" y1="838.10" x2="508.20" y2="844.00" stroke="#555" stroke-width="1" />
<text x="508.20" y="859.02" font-size="9.5" text-anchor="middle" fill="#111" stroke="#111" stroke-width="0.22" >6</text>
<line x1="548.40" y1="838.10" x2="548.40" y2="844.00" stroke="#555" stroke-width="1" />
<text x="548.40" y="859.02" font-size="9.5" text-anchor="middle" fill="#111" stroke="#111" stroke-width="0.22" >8</text>
<line x1="588.60" y1="838.10" x2="588.60" y2="844.00" stroke="#555" stroke-width="1" />
<text x="588.60" y="859.02" font-size="9.5" text-anchor="middle" fill="#111" stroke="#111" stroke-width="0.22" >10</text>
<line x1="628.80" y1="838.10" x2="628.80" y2="844.00" stroke="#555" stroke-width="1" />
<text x="628.80" y="859.02" font-size="9.5" text-anchor="middle" fill="#111" stroke="#111" stroke-width="0.22" >12</text>
<line x1="669.00" y1="838.10" x2="669.00" y2="844.00" stroke="#555" stroke-width="1" />
<text x="669.00" y="859.02" font-size="9.5" text-anchor="middle" fill="#111" stroke="#111" stroke-width="0.22" >14</text>
<text transform="translate(358.42,719.20) rotate(-90)" font-size="9.5" text-anchor="middle" fill="#111" stroke="#111" stroke-width="0.22">10x CV Error</text>
<text x="539.50" y="881.62" font-size="9.5" text-anchor="middle" fill="#111" stroke="#111" stroke-width="0.22" >Number of Features</text>
<circle cx="293.6" cy="1021.0" r="76.8" fill="#e8dae2" fill-opacity="0.5"/>
<circle cx="395.9" cy="1021.0" r="76.8" fill="#b1dbe7" fill-opacity="0.5"/>
<circle cx="344.8" cy="1116.8" r="76.8" fill="#91d1bf" fill-opacity="0.5"/>
<circle cx="293.6" cy="1021.0" r="76.8" fill="none" stroke="#111" stroke-width="1.7"/>
<circle cx="395.9" cy="1021.0" r="76.8" fill="none" stroke="#111" stroke-width="1.7"/>
<circle cx="344.8" cy="1116.8" r="76.8" fill="none" stroke="#111" stroke-width="1.7"/>
<text x="283.40" y="930.54" font-size="11.5" text-anchor="middle" fill="#111" stroke="#111" stroke-width="0.22" >Lasso</text>
<text x="406.50" y="930.54" font-size="11.5" text-anchor="middle" fill="#111" stroke="#111" stroke-width="0.22" >SVM</text>
<text x="345.10" y="1216.14" font-size="11.5" text-anchor="middle" fill="#111" stroke="#111" stroke-width="0.22" >Boruta</text>
<text x="283.10" y="1018.34" font-size="7.6" text-anchor="middle" fill="#2a2a2a" stroke="#2a2a2a" stroke-width="0.1">0</text>
<text x="283.10" y="1029.94" font-size="7.6" text-anchor="middle" fill="#2a2a2a" stroke="#2a2a2a" stroke-width="0.1">(0.0%)</text>
<text x="344.90" y="1004.44" font-size="7.6" text-anchor="middle" fill="#2a2a2a" stroke="#2a2a2a" stroke-width="0.1">0</text>
<text x="344.90" y="1016.34" font-size="7.6" text-anchor="middle" fill="#2a2a2a" stroke="#2a2a2a" stroke-width="0.1">(0.0%)</text>
<text x="406.40" y="1018.34" font-size="7.6" text-anchor="middle" fill="#2a2a2a" stroke="#2a2a2a" stroke-width="0.1">0</text>
<text x="406.40" y="1029.94" font-size="7.6" text-anchor="middle" fill="#2a2a2a" stroke="#2a2a2a" stroke-width="0.1">(0.0%)</text>
<text x="344.60" y="1050.54" font-size="7.6" text-anchor="middle" fill="#2a2a2a" stroke="#2a2a2a" stroke-width="0.1">3</text>
<text x="344.60" y="1062.74" font-size="7.6" text-anchor="middle" fill="#2a2a2a" stroke="#2a2a2a" stroke-width="0.1">(23.1%)</text>
<text x="306.40" y="1066.44" font-size="7.6" text-anchor="middle" fill="#2a2a2a" stroke="#2a2a2a" stroke-width="0.1">1</text>
<text x="306.40" y="1077.84" font-size="7.6" text-anchor="middle" fill="#2a2a2a" stroke="#2a2a2a" stroke-width="0.1">(7.7%)</text>
<text x="383.40" y="1066.44" font-size="7.6" text-anchor="middle" fill="#2a2a2a" stroke="#2a2a2a" stroke-width="0.1">1</text>
<text x="383.40" y="1077.84" font-size="7.6" text-anchor="middle" fill="#2a2a2a" stroke="#2a2a2a" stroke-width="0.1">(7.7%)</text>
<text x="344.80" y="1113.94" font-size="7.6" text-anchor="middle" fill="#2a2a2a" stroke="#2a2a2a" stroke-width="0.1">8</text>
<text x="344.80" y="1125.74" font-size="7.6" text-anchor="middle" fill="#2a2a2a" stroke="#2a2a2a" stroke-width="0.1">(61.5%)</text>
</svg></body></html>
